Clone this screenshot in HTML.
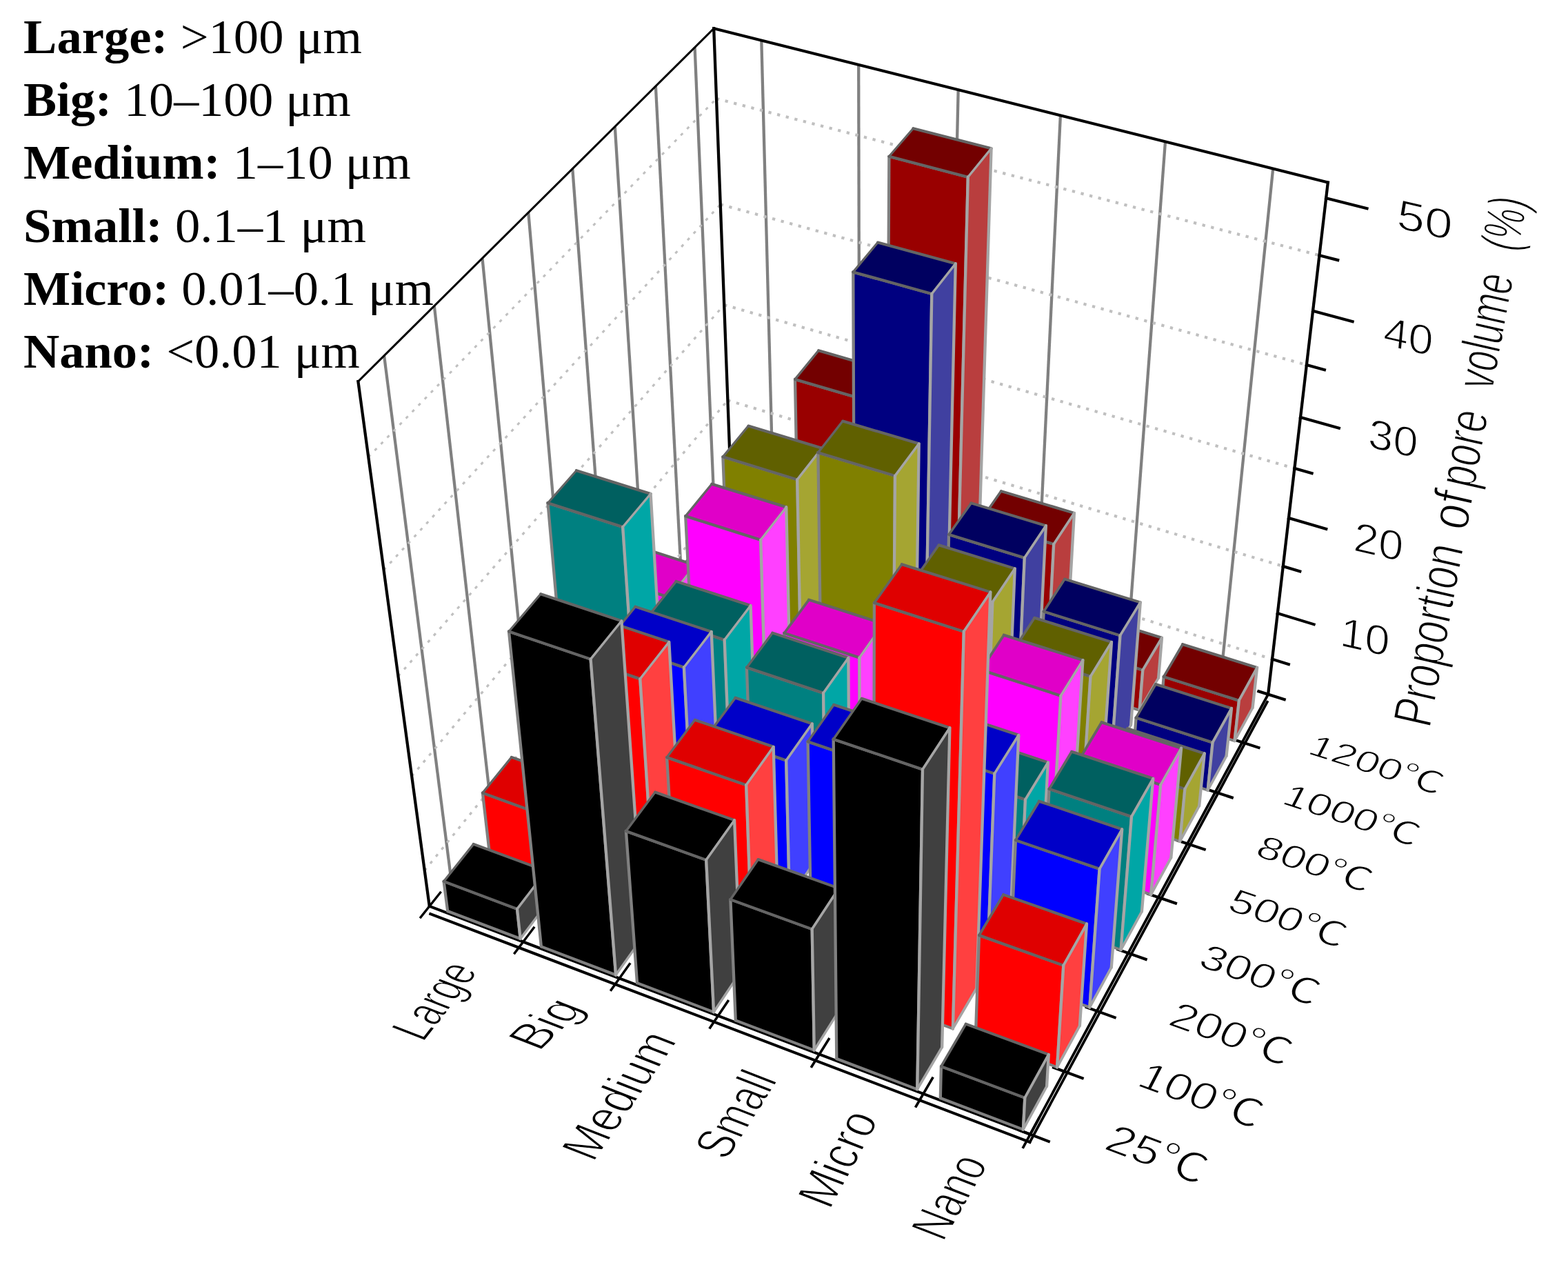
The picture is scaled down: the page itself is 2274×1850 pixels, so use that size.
<!DOCTYPE html>
<html><head><meta charset="utf-8"><title>Pore volume proportion</title>
<style>
html,body{margin:0;padding:0;background:#fff;}
body{width:2274px;height:1850px;overflow:hidden;}
svg{display:block;}
text{font-family:"Liberation Sans","Noto Sans CJK SC",sans-serif;fill:#000;}
.lg{font-family:"Liberation Serif",serif;}
.lg .b{font-weight:bold;}
</style></head>
<body>
<svg xmlns="http://www.w3.org/2000/svg" width="2274" height="1850" viewBox="0 0 2274 1850">
<rect width="2274" height="1850" fill="#fff"/>
<g id="grid" stroke-linecap="butt">
<line x1="654.2" y1="1274.4" x2="557.1" y2="515.8" stroke="#808080" stroke-width="4.27" />
<line x1="715.3" y1="1197.7" x2="629.8" y2="443.6" stroke="#808080" stroke-width="4.27" />
<line x1="774.1" y1="1123.9" x2="699.5" y2="374.4" stroke="#808080" stroke-width="4.28" />
<line x1="830.7" y1="1052.7" x2="766.3" y2="308.2" stroke="#808080" stroke-width="4.28" />
<line x1="885.4" y1="984.1" x2="830.3" y2="244.6" stroke="#808080" stroke-width="4.29" />
<line x1="938.1" y1="917.9" x2="891.8" y2="183.6" stroke="#808080" stroke-width="4.29" />
<line x1="989.0" y1="853.9" x2="950.9" y2="125.0" stroke="#808080" stroke-width="4.29" />
<line x1="1038.2" y1="792.1" x2="1007.6" y2="68.6" stroke="#808080" stroke-width="4.3" />
<line x1="1123.0" y1="781.2" x2="1104.3" y2="58.6" stroke="#808080" stroke-width="4.3" />
<line x1="1246.7" y1="820.1" x2="1245.2" y2="93.9" stroke="#808080" stroke-width="4.3" />
<line x1="1373.2" y1="860.0" x2="1389.7" y2="130.1" stroke="#808080" stroke-width="4.3" />
<line x1="1502.6" y1="900.7" x2="1537.9" y2="167.3" stroke="#808080" stroke-width="4.3" />
<line x1="1634.9" y1="942.4" x2="1690.0" y2="205.4" stroke="#808080" stroke-width="4.29" />
<line x1="1770.2" y1="985.0" x2="1846.2" y2="244.6" stroke="#808080" stroke-width="4.28" />
<line x1="615.8" y1="1262.1" x2="1060.3" y2="712.0" stroke="#c0c0c0" stroke-width="3.34" stroke-dasharray="4.3 8.7"/>
<line x1="1060.3" y1="712.0" x2="1845.1" y2="955.6" stroke="#c0c0c0" stroke-width="4.11" stroke-dasharray="4.3 8.7"/>
<line x1="597.2" y1="1125.3" x2="1055.4" y2="580.4" stroke="#c0c0c0" stroke-width="3.29" stroke-dasharray="4.3 8.7"/>
<line x1="1055.4" y1="580.4" x2="1860.8" y2="821.0" stroke="#c0c0c0" stroke-width="4.12" stroke-dasharray="4.3 8.7"/>
<line x1="577.5" y1="980.2" x2="1050.2" y2="442.0" stroke="#c0c0c0" stroke-width="3.23" stroke-dasharray="4.3 8.7"/>
<line x1="1050.2" y1="442.0" x2="1877.4" y2="679.0" stroke="#c0c0c0" stroke-width="4.13" stroke-dasharray="4.3 8.7"/>
<line x1="556.6" y1="826.3" x2="1044.8" y2="296.4" stroke="#c0c0c0" stroke-width="3.16" stroke-dasharray="4.3 8.7"/>
<line x1="1044.8" y1="296.4" x2="1894.9" y2="529.0" stroke="#c0c0c0" stroke-width="4.15" stroke-dasharray="4.3 8.7"/>
<line x1="534.3" y1="662.5" x2="1039.0" y2="143.0" stroke="#c0c0c0" stroke-width="3.08" stroke-dasharray="4.3 8.7"/>
<line x1="1039.0" y1="143.0" x2="1913.5" y2="370.2" stroke="#c0c0c0" stroke-width="4.16" stroke-dasharray="4.3 8.7"/>
</g>
<g id="box" stroke-linecap="square">
<line x1="622.8" y1="1313.9" x2="519.4" y2="553.1" stroke="#000" stroke-width="4.26" />
<line x1="519.4" y1="553.1" x2="1035.2" y2="41.3" stroke="#000" stroke-width="3.05" />
<line x1="1035.2" y1="41.3" x2="1925.8" y2="264.5" stroke="#000" stroke-width="4.17" />
<line x1="1035.2" y1="41.3" x2="1062.2" y2="762.0" stroke="#000" stroke-width="4.3" />
<line x1="1925.8" y1="264.5" x2="1839.1" y2="1006.7" stroke="#000" stroke-width="4.27" />
<line x1="622.8" y1="1313.9" x2="1494.1" y2="1644.6" stroke="#000" stroke-width="4.02" />
<line x1="1494.1" y1="1644.6" x2="1839.1" y2="1006.7" stroke="#000" stroke-width="3.78" />
<line x1="624.3" y1="1325.1" x2="1493.5" y2="1655.9" stroke="#000" stroke-width="4.02" />
<line x1="1493.5" y1="1655.9" x2="1837.8" y2="1017.8" stroke="#000" stroke-width="3.78" />
<line x1="610.1" y1="1329.9" x2="638.6" y2="1294.1" stroke="#000" stroke-width="3.36" />
<line x1="746.4" y1="1381.9" x2="774.1" y2="1345.2" stroke="#000" stroke-width="3.43" />
<line x1="886.3" y1="1435.3" x2="913.1" y2="1397.6" stroke="#000" stroke-width="3.5" />
<line x1="1029.8" y1="1490.0" x2="1055.7" y2="1451.4" stroke="#000" stroke-width="3.57" />
<line x1="1177.2" y1="1546.3" x2="1202.0" y2="1506.6" stroke="#000" stroke-width="3.65" />
<line x1="1328.5" y1="1604.0" x2="1352.3" y2="1563.2" stroke="#000" stroke-width="3.71" />
<line x1="1484.0" y1="1663.3" x2="1506.6" y2="1621.5" stroke="#000" stroke-width="3.78" />
<line x1="1478.4" y1="1638.7" x2="1520.9" y2="1654.8" stroke="#000" stroke-width="4.02" />
<line x1="1528.0" y1="1547.7" x2="1569.7" y2="1563.2" stroke="#000" stroke-width="4.03" />
<line x1="1575.6" y1="1460.4" x2="1616.7" y2="1475.2" stroke="#000" stroke-width="4.05" />
<line x1="1621.3" y1="1376.6" x2="1661.7" y2="1390.8" stroke="#000" stroke-width="4.06" />
<line x1="1665.2" y1="1295.9" x2="1705.0" y2="1309.6" stroke="#000" stroke-width="4.07" />
<line x1="1707.5" y1="1218.4" x2="1746.7" y2="1231.5" stroke="#000" stroke-width="4.08" />
<line x1="1748.2" y1="1143.7" x2="1786.8" y2="1156.4" stroke="#000" stroke-width="4.08" />
<line x1="1787.5" y1="1071.7" x2="1825.5" y2="1084.0" stroke="#000" stroke-width="4.09" />
<line x1="1825.3" y1="1002.3" x2="1862.7" y2="1014.1" stroke="#000" stroke-width="4.1" />
<line x1="1845.1" y1="955.6" x2="1868.9" y2="963.1" stroke="#000" stroke-width="4.1" />
<line x1="1852.8" y1="889.2" x2="1905.6" y2="905.3" stroke="#000" stroke-width="4.11" />
<line x1="1860.8" y1="821.0" x2="1885.3" y2="828.4" stroke="#000" stroke-width="4.12" />
<line x1="1869.0" y1="751.0" x2="1923.3" y2="766.9" stroke="#000" stroke-width="4.13" />
<line x1="1877.4" y1="679.0" x2="1902.6" y2="686.2" stroke="#000" stroke-width="4.13" />
<line x1="1886.0" y1="605.0" x2="1941.9" y2="620.7" stroke="#000" stroke-width="4.14" />
<line x1="1894.9" y1="529.0" x2="1920.9" y2="536.1" stroke="#000" stroke-width="4.15" />
<line x1="1904.1" y1="450.7" x2="1961.6" y2="466.1" stroke="#000" stroke-width="4.15" />
<line x1="1913.5" y1="370.2" x2="1940.2" y2="377.1" stroke="#000" stroke-width="4.16" />
<line x1="1923.1" y1="287.3" x2="1982.5" y2="302.3" stroke="#000" stroke-width="4.17" />
</g>
<g id="bars" stroke-linecap="round">
<g class="bar">
<path d="M1035.5 831.0 L1131.7 862.0 L1130.3 803.2 L1032.9 772.4Z" fill="#990000"/>
<line x1="1035.5" y1="831.0" x2="1131.7" y2="862.0" stroke="#808080" stroke-width="4.09"/>
<line x1="1131.7" y1="862.0" x2="1130.3" y2="803.2" stroke="#808080" stroke-width="4.3"/>
<line x1="1130.3" y1="803.2" x2="1032.9" y2="772.4" stroke="#808080" stroke-width="4.1"/>
<line x1="1032.9" y1="772.4" x2="1035.5" y2="831.0" stroke="#808080" stroke-width="4.3"/>
<path d="M1032.9 772.4 L1130.3 803.2 L1163.0 760.6 L1066.5 730.6Z" fill="#730000"/>
<line x1="1032.9" y1="772.4" x2="1130.3" y2="803.2" stroke="#646464" stroke-width="4.1"/>
<line x1="1130.3" y1="803.2" x2="1163.0" y2="760.6" stroke="#646464" stroke-width="3.41"/>
<line x1="1163.0" y1="760.6" x2="1066.5" y2="730.6" stroke="#646464" stroke-width="4.11"/>
<line x1="1066.5" y1="730.6" x2="1032.9" y2="772.4" stroke="#646464" stroke-width="3.35"/>
<path d="M1131.7 862.0 L1164.0 819.2 L1163.0 760.6 L1130.3 803.2Z" fill="#b93e3e"/>
<line x1="1131.7" y1="862.0" x2="1164.0" y2="819.2" stroke="#a5a5a5" stroke-width="3.43"/>
<line x1="1164.0" y1="819.2" x2="1163.0" y2="760.6" stroke="#a5a5a5" stroke-width="4.3"/>
<line x1="1163.0" y1="760.6" x2="1130.3" y2="803.2" stroke="#a5a5a5" stroke-width="3.41"/>
<line x1="1130.3" y1="803.2" x2="1131.7" y2="862.0" stroke="#a5a5a5" stroke-width="4.3"/>
</g>
<g class="bar">
<path d="M1159.1 870.8 L1257.5 902.5 L1257.5 580.6 L1153.0 549.9Z" fill="#990000"/>
<line x1="1159.1" y1="870.8" x2="1257.5" y2="902.5" stroke="#808080" stroke-width="4.09"/>
<line x1="1257.5" y1="902.5" x2="1257.5" y2="580.6" stroke="#808080" stroke-width="4.3"/>
<line x1="1257.5" y1="580.6" x2="1153.0" y2="549.9" stroke="#808080" stroke-width="4.13"/>
<line x1="1153.0" y1="549.9" x2="1159.1" y2="870.8" stroke="#808080" stroke-width="4.3"/>
<path d="M1153.0 549.9 L1257.5 580.6 L1290.7 538.2 L1187.1 508.2Z" fill="#730000"/>
<line x1="1153.0" y1="549.9" x2="1257.5" y2="580.6" stroke="#646464" stroke-width="4.13"/>
<line x1="1257.5" y1="580.6" x2="1290.7" y2="538.2" stroke="#646464" stroke-width="3.39"/>
<line x1="1290.7" y1="538.2" x2="1187.1" y2="508.2" stroke="#646464" stroke-width="4.13"/>
<line x1="1187.1" y1="508.2" x2="1153.0" y2="549.9" stroke="#646464" stroke-width="3.33"/>
<path d="M1257.5 902.5 L1288.7 858.7 L1290.7 538.2 L1257.5 580.6Z" fill="#b93e3e"/>
<line x1="1257.5" y1="902.5" x2="1288.7" y2="858.7" stroke="#a5a5a5" stroke-width="3.5"/>
<line x1="1288.7" y1="858.7" x2="1290.7" y2="538.2" stroke="#a5a5a5" stroke-width="4.3"/>
<line x1="1290.7" y1="538.2" x2="1257.5" y2="580.6" stroke="#a5a5a5" stroke-width="3.39"/>
<line x1="1257.5" y1="580.6" x2="1257.5" y2="902.5" stroke="#a5a5a5" stroke-width="4.3"/>
</g>
<g class="bar">
<path d="M1285.6 911.5 L1386.2 943.9 L1403.8 256.7 L1289.4 226.8Z" fill="#990000"/>
<line x1="1285.6" y1="911.5" x2="1386.2" y2="943.9" stroke="#808080" stroke-width="4.09"/>
<line x1="1386.2" y1="943.9" x2="1403.8" y2="256.7" stroke="#808080" stroke-width="4.3"/>
<line x1="1403.8" y1="256.7" x2="1289.4" y2="226.8" stroke="#808080" stroke-width="4.16"/>
<line x1="1289.4" y1="226.8" x2="1285.6" y2="911.5" stroke="#808080" stroke-width="4.3"/>
<path d="M1289.4 226.8 L1403.8 256.7 L1437.6 215.3 L1324.4 186.2Z" fill="#730000"/>
<line x1="1289.4" y1="226.8" x2="1403.8" y2="256.7" stroke="#646464" stroke-width="4.16"/>
<line x1="1403.8" y1="256.7" x2="1437.6" y2="215.3" stroke="#646464" stroke-width="3.33"/>
<line x1="1437.6" y1="215.3" x2="1324.4" y2="186.2" stroke="#646464" stroke-width="4.16"/>
<line x1="1324.4" y1="186.2" x2="1289.4" y2="226.8" stroke="#646464" stroke-width="3.26"/>
<path d="M1386.2 943.9 L1416.2 899.2 L1437.6 215.3 L1403.8 256.7Z" fill="#b93e3e"/>
<line x1="1386.2" y1="943.9" x2="1416.2" y2="899.2" stroke="#a5a5a5" stroke-width="3.57"/>
<line x1="1416.2" y1="899.2" x2="1437.6" y2="215.3" stroke="#a5a5a5" stroke-width="4.3"/>
<line x1="1437.6" y1="215.3" x2="1403.8" y2="256.7" stroke="#a5a5a5" stroke-width="3.33"/>
<line x1="1403.8" y1="256.7" x2="1386.2" y2="943.9" stroke="#a5a5a5" stroke-width="4.3"/>
</g>
<g class="bar">
<path d="M1414.9 953.1 L1517.9 986.3 L1528.2 788.9 L1421.1 756.3Z" fill="#990000"/>
<line x1="1414.9" y1="953.1" x2="1517.9" y2="986.3" stroke="#808080" stroke-width="4.09"/>
<line x1="1517.9" y1="986.3" x2="1528.2" y2="788.9" stroke="#808080" stroke-width="4.29"/>
<line x1="1528.2" y1="788.9" x2="1421.1" y2="756.3" stroke="#808080" stroke-width="4.11"/>
<line x1="1421.1" y1="756.3" x2="1414.9" y2="953.1" stroke="#808080" stroke-width="4.3"/>
<path d="M1421.1 756.3 L1528.2 788.9 L1557.9 743.9 L1451.9 712.1Z" fill="#730000"/>
<line x1="1421.1" y1="756.3" x2="1528.2" y2="788.9" stroke="#646464" stroke-width="4.11"/>
<line x1="1528.2" y1="788.9" x2="1557.9" y2="743.9" stroke="#646464" stroke-width="3.59"/>
<line x1="1557.9" y1="743.9" x2="1451.9" y2="712.1" stroke="#646464" stroke-width="4.12"/>
<line x1="1451.9" y1="712.1" x2="1421.1" y2="756.3" stroke="#646464" stroke-width="3.53"/>
<path d="M1517.9 986.3 L1546.7 940.5 L1557.9 743.9 L1528.2 788.9Z" fill="#b93e3e"/>
<line x1="1517.9" y1="986.3" x2="1546.7" y2="940.5" stroke="#a5a5a5" stroke-width="3.64"/>
<line x1="1546.7" y1="940.5" x2="1557.9" y2="743.9" stroke="#a5a5a5" stroke-width="4.29"/>
<line x1="1557.9" y1="743.9" x2="1528.2" y2="788.9" stroke="#a5a5a5" stroke-width="3.59"/>
<line x1="1528.2" y1="788.9" x2="1517.9" y2="986.3" stroke="#a5a5a5" stroke-width="4.29"/>
</g>
<g class="bar">
<path d="M1547.3 995.7 L1652.6 1029.7 L1657.3 971.5 L1550.6 937.7Z" fill="#990000"/>
<line x1="1547.3" y1="995.7" x2="1652.6" y2="1029.7" stroke="#808080" stroke-width="4.09"/>
<line x1="1652.6" y1="1029.7" x2="1657.3" y2="971.5" stroke="#808080" stroke-width="4.29"/>
<line x1="1657.3" y1="971.5" x2="1550.6" y2="937.7" stroke="#808080" stroke-width="4.1"/>
<line x1="1550.6" y1="937.7" x2="1547.3" y2="995.7" stroke="#808080" stroke-width="4.29"/>
<path d="M1550.6 937.7 L1657.3 971.5 L1685.0 924.8 L1579.4 891.9Z" fill="#730000"/>
<line x1="1550.6" y1="937.7" x2="1657.3" y2="971.5" stroke="#646464" stroke-width="4.1"/>
<line x1="1657.3" y1="971.5" x2="1685.0" y2="924.8" stroke="#646464" stroke-width="3.7"/>
<line x1="1685.0" y1="924.8" x2="1579.4" y2="891.9" stroke="#646464" stroke-width="4.11"/>
<line x1="1579.4" y1="891.9" x2="1550.6" y2="937.7" stroke="#646464" stroke-width="3.64"/>
<path d="M1652.6 1029.7 L1680.1 982.9 L1685.0 924.8 L1657.3 971.5Z" fill="#b93e3e"/>
<line x1="1652.6" y1="1029.7" x2="1680.1" y2="982.9" stroke="#a5a5a5" stroke-width="3.71"/>
<line x1="1680.1" y1="982.9" x2="1685.0" y2="924.8" stroke="#a5a5a5" stroke-width="4.28"/>
<line x1="1685.0" y1="924.8" x2="1657.3" y2="971.5" stroke="#a5a5a5" stroke-width="3.7"/>
<line x1="1657.3" y1="971.5" x2="1652.6" y2="1029.7" stroke="#a5a5a5" stroke-width="4.29"/>
</g>
<g class="bar">
<path d="M1682.7 1039.3 L1790.5 1074.1 L1796.9 1015.7 L1687.7 981.1Z" fill="#990000"/>
<line x1="1682.7" y1="1039.3" x2="1790.5" y2="1074.1" stroke="#808080" stroke-width="4.09"/>
<line x1="1790.5" y1="1074.1" x2="1796.9" y2="1015.7" stroke="#808080" stroke-width="4.27"/>
<line x1="1796.9" y1="1015.7" x2="1687.7" y2="981.1" stroke="#808080" stroke-width="4.1"/>
<line x1="1687.7" y1="981.1" x2="1682.7" y2="1039.3" stroke="#808080" stroke-width="4.28"/>
<path d="M1687.7 981.1 L1796.9 1015.7 L1823.1 968.0 L1715.1 934.2Z" fill="#730000"/>
<line x1="1687.7" y1="981.1" x2="1796.9" y2="1015.7" stroke="#646464" stroke-width="4.1"/>
<line x1="1796.9" y1="1015.7" x2="1823.1" y2="968.0" stroke="#646464" stroke-width="3.77"/>
<line x1="1823.1" y1="968.0" x2="1715.1" y2="934.2" stroke="#646464" stroke-width="4.1"/>
<line x1="1715.1" y1="934.2" x2="1687.7" y2="981.1" stroke="#646464" stroke-width="3.71"/>
<path d="M1790.5 1074.1 L1816.6 1026.2 L1823.1 968.0 L1796.9 1015.7Z" fill="#b93e3e"/>
<line x1="1790.5" y1="1074.1" x2="1816.6" y2="1026.2" stroke="#a5a5a5" stroke-width="3.78"/>
<line x1="1816.6" y1="1026.2" x2="1823.1" y2="968.0" stroke="#a5a5a5" stroke-width="4.27"/>
<line x1="1823.1" y1="968.0" x2="1796.9" y2="1015.7" stroke="#a5a5a5" stroke-width="3.77"/>
<line x1="1796.9" y1="1015.7" x2="1790.5" y2="1074.1" stroke="#a5a5a5" stroke-width="4.27"/>
</g>
<g class="bar">
<path d="M986.0 893.7 L1083.5 925.8 L1081.3 861.6 L982.6 829.7Z" fill="#000080"/>
<line x1="986.0" y1="893.7" x2="1083.5" y2="925.8" stroke="#808080" stroke-width="4.08"/>
<line x1="1083.5" y1="925.8" x2="1081.3" y2="861.6" stroke="#808080" stroke-width="4.3"/>
<line x1="1081.3" y1="861.6" x2="982.6" y2="829.7" stroke="#808080" stroke-width="4.09"/>
<line x1="982.6" y1="829.7" x2="986.0" y2="893.7" stroke="#808080" stroke-width="4.29"/>
<path d="M982.6 829.7 L1081.3 861.6 L1115.2 817.5 L1017.4 786.4Z" fill="#000060"/>
<line x1="982.6" y1="829.7" x2="1081.3" y2="861.6" stroke="#646464" stroke-width="4.09"/>
<line x1="1081.3" y1="861.6" x2="1115.2" y2="817.5" stroke="#646464" stroke-width="3.41"/>
<line x1="1115.2" y1="817.5" x2="1017.4" y2="786.4" stroke="#646464" stroke-width="4.1"/>
<line x1="1017.4" y1="786.4" x2="982.6" y2="829.7" stroke="#646464" stroke-width="3.35"/>
<path d="M1083.5 925.8 L1116.9 881.5 L1115.2 817.5 L1081.3 861.6Z" fill="#4040a0"/>
<line x1="1083.5" y1="925.8" x2="1116.9" y2="881.5" stroke="#a5a5a5" stroke-width="3.43"/>
<line x1="1116.9" y1="881.5" x2="1115.2" y2="817.5" stroke="#a5a5a5" stroke-width="4.3"/>
<line x1="1115.2" y1="817.5" x2="1081.3" y2="861.6" stroke="#a5a5a5" stroke-width="3.41"/>
<line x1="1081.3" y1="861.6" x2="1083.5" y2="925.8" stroke="#a5a5a5" stroke-width="4.3"/>
</g>
<g class="bar">
<path d="M1111.3 934.9 L1211.0 967.7 L1208.9 741.7 L1104.7 709.5Z" fill="#000080"/>
<line x1="1111.3" y1="934.9" x2="1211.0" y2="967.7" stroke="#808080" stroke-width="4.08"/>
<line x1="1211.0" y1="967.7" x2="1208.9" y2="741.7" stroke="#808080" stroke-width="4.3"/>
<line x1="1208.9" y1="741.7" x2="1104.7" y2="709.5" stroke="#808080" stroke-width="4.11"/>
<line x1="1104.7" y1="709.5" x2="1111.3" y2="934.9" stroke="#808080" stroke-width="4.3"/>
<path d="M1104.7 709.5 L1208.9 741.7 L1242.6 697.2 L1139.5 665.9Z" fill="#000060"/>
<line x1="1104.7" y1="709.5" x2="1208.9" y2="741.7" stroke="#646464" stroke-width="4.11"/>
<line x1="1208.9" y1="741.7" x2="1242.6" y2="697.2" stroke="#646464" stroke-width="3.43"/>
<line x1="1242.6" y1="697.2" x2="1139.5" y2="665.9" stroke="#646464" stroke-width="4.11"/>
<line x1="1139.5" y1="665.9" x2="1104.7" y2="709.5" stroke="#646464" stroke-width="3.36"/>
<path d="M1211.0 967.7 L1243.3 922.5 L1242.6 697.2 L1208.9 741.7Z" fill="#4040a0"/>
<line x1="1211.0" y1="967.7" x2="1243.3" y2="922.5" stroke="#a5a5a5" stroke-width="3.5"/>
<line x1="1243.3" y1="922.5" x2="1242.6" y2="697.2" stroke="#a5a5a5" stroke-width="4.3"/>
<line x1="1242.6" y1="697.2" x2="1208.9" y2="741.7" stroke="#a5a5a5" stroke-width="3.43"/>
<line x1="1208.9" y1="741.7" x2="1211.0" y2="967.7" stroke="#a5a5a5" stroke-width="4.3"/>
</g>
<g class="bar">
<path d="M1239.4 977.1 L1341.4 1010.7 L1351.3 426.0 L1237.3 394.4Z" fill="#000080"/>
<line x1="1239.4" y1="977.1" x2="1341.4" y2="1010.7" stroke="#808080" stroke-width="4.08"/>
<line x1="1341.4" y1="1010.7" x2="1351.3" y2="426.0" stroke="#808080" stroke-width="4.3"/>
<line x1="1351.3" y1="426.0" x2="1237.3" y2="394.4" stroke="#808080" stroke-width="4.14"/>
<line x1="1237.3" y1="394.4" x2="1239.4" y2="977.1" stroke="#808080" stroke-width="4.3"/>
<path d="M1237.3 394.4 L1351.3 426.0 L1385.8 382.2 L1273.0 351.5Z" fill="#000060"/>
<line x1="1237.3" y1="394.4" x2="1351.3" y2="426.0" stroke="#646464" stroke-width="4.14"/>
<line x1="1351.3" y1="426.0" x2="1385.8" y2="382.2" stroke="#646464" stroke-width="3.38"/>
<line x1="1385.8" y1="382.2" x2="1273.0" y2="351.5" stroke="#646464" stroke-width="4.15"/>
<line x1="1273.0" y1="351.5" x2="1237.3" y2="394.4" stroke="#646464" stroke-width="3.31"/>
<path d="M1341.4 1010.7 L1372.5 964.4 L1385.8 382.2 L1351.3 426.0Z" fill="#4040a0"/>
<line x1="1341.4" y1="1010.7" x2="1372.5" y2="964.4" stroke="#a5a5a5" stroke-width="3.57"/>
<line x1="1372.5" y1="964.4" x2="1385.8" y2="382.2" stroke="#a5a5a5" stroke-width="4.3"/>
<line x1="1385.8" y1="382.2" x2="1351.3" y2="426.0" stroke="#a5a5a5" stroke-width="3.38"/>
<line x1="1351.3" y1="426.0" x2="1341.4" y2="1010.7" stroke="#a5a5a5" stroke-width="4.3"/>
</g>
<g class="bar">
<path d="M1370.5 1020.3 L1474.9 1054.6 L1485.8 808.8 L1376.1 775.0Z" fill="#000080"/>
<line x1="1370.5" y1="1020.3" x2="1474.9" y2="1054.6" stroke="#808080" stroke-width="4.09"/>
<line x1="1474.9" y1="1054.6" x2="1485.8" y2="808.8" stroke="#808080" stroke-width="4.3"/>
<line x1="1485.8" y1="808.8" x2="1376.1" y2="775.0" stroke="#808080" stroke-width="4.11"/>
<line x1="1376.1" y1="775.0" x2="1370.5" y2="1020.3" stroke="#808080" stroke-width="4.3"/>
<path d="M1376.1 775.0 L1485.8 808.8 L1516.9 762.2 L1408.4 729.4Z" fill="#000060"/>
<line x1="1376.1" y1="775.0" x2="1485.8" y2="808.8" stroke="#646464" stroke-width="4.11"/>
<line x1="1485.8" y1="808.8" x2="1516.9" y2="762.2" stroke="#646464" stroke-width="3.58"/>
<line x1="1516.9" y1="762.2" x2="1408.4" y2="729.4" stroke="#646464" stroke-width="4.12"/>
<line x1="1408.4" y1="729.4" x2="1376.1" y2="775.0" stroke="#646464" stroke-width="3.51"/>
<path d="M1474.9 1054.6 L1504.7 1007.2 L1516.9 762.2 L1485.8 808.8Z" fill="#4040a0"/>
<line x1="1474.9" y1="1054.6" x2="1504.7" y2="1007.2" stroke="#a5a5a5" stroke-width="3.64"/>
<line x1="1504.7" y1="1007.2" x2="1516.9" y2="762.2" stroke="#a5a5a5" stroke-width="4.29"/>
<line x1="1516.9" y1="762.2" x2="1485.8" y2="808.8" stroke="#a5a5a5" stroke-width="3.58"/>
<line x1="1485.8" y1="808.8" x2="1474.9" y2="1054.6" stroke="#a5a5a5" stroke-width="4.3"/>
</g>
<g class="bar">
<path d="M1504.7 1064.4 L1611.6 1099.6 L1624.5 921.4 L1513.7 886.6Z" fill="#000080"/>
<line x1="1504.7" y1="1064.4" x2="1611.6" y2="1099.6" stroke="#808080" stroke-width="4.08"/>
<line x1="1611.6" y1="1099.6" x2="1624.5" y2="921.4" stroke="#808080" stroke-width="4.29"/>
<line x1="1624.5" y1="921.4" x2="1513.7" y2="886.6" stroke="#808080" stroke-width="4.1"/>
<line x1="1513.7" y1="886.6" x2="1504.7" y2="1064.4" stroke="#808080" stroke-width="4.29"/>
<path d="M1513.7 886.6 L1624.5 921.4 L1653.8 873.4 L1544.1 839.6Z" fill="#000060"/>
<line x1="1513.7" y1="886.6" x2="1624.5" y2="921.4" stroke="#646464" stroke-width="4.1"/>
<line x1="1624.5" y1="921.4" x2="1653.8" y2="873.4" stroke="#646464" stroke-width="3.67"/>
<line x1="1653.8" y1="873.4" x2="1544.1" y2="839.6" stroke="#646464" stroke-width="4.11"/>
<line x1="1544.1" y1="839.6" x2="1513.7" y2="886.6" stroke="#646464" stroke-width="3.61"/>
<path d="M1611.6 1099.6 L1640.1 1051.1 L1653.8 873.4 L1624.5 921.4Z" fill="#4040a0"/>
<line x1="1611.6" y1="1099.6" x2="1640.1" y2="1051.1" stroke="#a5a5a5" stroke-width="3.71"/>
<line x1="1640.1" y1="1051.1" x2="1653.8" y2="873.4" stroke="#a5a5a5" stroke-width="4.29"/>
<line x1="1653.8" y1="873.4" x2="1624.5" y2="921.4" stroke="#a5a5a5" stroke-width="3.67"/>
<line x1="1624.5" y1="921.4" x2="1611.6" y2="1099.6" stroke="#a5a5a5" stroke-width="4.29"/>
</g>
<g class="bar">
<path d="M1642.1 1109.6 L1751.6 1145.6 L1758.6 1076.5 L1647.6 1040.6Z" fill="#000080"/>
<line x1="1642.1" y1="1109.6" x2="1751.6" y2="1145.6" stroke="#808080" stroke-width="4.08"/>
<line x1="1751.6" y1="1145.6" x2="1758.6" y2="1076.5" stroke="#808080" stroke-width="4.28"/>
<line x1="1758.6" y1="1076.5" x2="1647.6" y2="1040.6" stroke="#808080" stroke-width="4.09"/>
<line x1="1647.6" y1="1040.6" x2="1642.1" y2="1109.6" stroke="#808080" stroke-width="4.29"/>
<path d="M1647.6 1040.6 L1758.6 1076.5 L1786.0 1027.0 L1676.0 992.0Z" fill="#000060"/>
<line x1="1647.6" y1="1040.6" x2="1758.6" y2="1076.5" stroke="#646464" stroke-width="4.09"/>
<line x1="1758.6" y1="1076.5" x2="1786.0" y2="1027.0" stroke="#646464" stroke-width="3.76"/>
<line x1="1786.0" y1="1027.0" x2="1676.0" y2="992.0" stroke="#646464" stroke-width="4.1"/>
<line x1="1676.0" y1="992.0" x2="1647.6" y2="1040.6" stroke="#646464" stroke-width="3.71"/>
<path d="M1751.6 1145.6 L1778.6 1096.0 L1786.0 1027.0 L1758.6 1076.5Z" fill="#4040a0"/>
<line x1="1751.6" y1="1145.6" x2="1778.6" y2="1096.0" stroke="#a5a5a5" stroke-width="3.78"/>
<line x1="1778.6" y1="1096.0" x2="1786.0" y2="1027.0" stroke="#a5a5a5" stroke-width="4.28"/>
<line x1="1786.0" y1="1027.0" x2="1758.6" y2="1076.5" stroke="#a5a5a5" stroke-width="3.76"/>
<line x1="1758.6" y1="1076.5" x2="1751.6" y2="1145.6" stroke="#a5a5a5" stroke-width="4.28"/>
</g>
<g class="bar">
<path d="M934.8 958.7 L1033.5 991.9 L1028.9 887.8 L928.1 854.9Z" fill="#808000"/>
<line x1="934.8" y1="958.7" x2="1033.5" y2="991.9" stroke="#808080" stroke-width="4.08"/>
<line x1="1033.5" y1="991.9" x2="1028.9" y2="887.8" stroke="#808080" stroke-width="4.3"/>
<line x1="1028.9" y1="887.8" x2="928.1" y2="854.9" stroke="#808080" stroke-width="4.09"/>
<line x1="928.1" y1="854.9" x2="934.8" y2="958.7" stroke="#808080" stroke-width="4.29"/>
<path d="M928.1 854.9 L1028.9 887.8 L1064.3 842.3 L964.5 810.2Z" fill="#606000"/>
<line x1="928.1" y1="854.9" x2="1028.9" y2="887.8" stroke="#646464" stroke-width="4.09"/>
<line x1="1028.9" y1="887.8" x2="1064.3" y2="842.3" stroke="#646464" stroke-width="3.39"/>
<line x1="1064.3" y1="842.3" x2="964.5" y2="810.2" stroke="#646464" stroke-width="4.09"/>
<line x1="964.5" y1="810.2" x2="928.1" y2="854.9" stroke="#646464" stroke-width="3.33"/>
<path d="M1033.5 991.9 L1068.2 946.0 L1064.3 842.3 L1028.9 887.8Z" fill="#a5a532"/>
<line x1="1033.5" y1="991.9" x2="1068.2" y2="946.0" stroke="#a5a5a5" stroke-width="3.43"/>
<line x1="1068.2" y1="946.0" x2="1064.3" y2="842.3" stroke="#a5a5a5" stroke-width="4.3"/>
<line x1="1064.3" y1="842.3" x2="1028.9" y2="887.8" stroke="#a5a5a5" stroke-width="3.39"/>
<line x1="1028.9" y1="887.8" x2="1033.5" y2="991.9" stroke="#a5a5a5" stroke-width="4.3"/>
</g>
<g class="bar">
<path d="M1061.7 1001.4 L1162.8 1035.4 L1156.2 695.4 L1048.4 662.3Z" fill="#808000"/>
<line x1="1061.7" y1="1001.4" x2="1162.8" y2="1035.4" stroke="#808080" stroke-width="4.08"/>
<line x1="1162.8" y1="1035.4" x2="1156.2" y2="695.4" stroke="#808080" stroke-width="4.3"/>
<line x1="1156.2" y1="695.4" x2="1048.4" y2="662.3" stroke="#808080" stroke-width="4.11"/>
<line x1="1048.4" y1="662.3" x2="1061.7" y2="1001.4" stroke="#808080" stroke-width="4.3"/>
<path d="M1048.4 662.3 L1156.2 695.4 L1192.0 649.7 L1085.3 617.5Z" fill="#606000"/>
<line x1="1048.4" y1="662.3" x2="1156.2" y2="695.4" stroke="#646464" stroke-width="4.11"/>
<line x1="1156.2" y1="695.4" x2="1192.0" y2="649.7" stroke="#646464" stroke-width="3.39"/>
<line x1="1192.0" y1="649.7" x2="1085.3" y2="617.5" stroke="#646464" stroke-width="4.12"/>
<line x1="1085.3" y1="617.5" x2="1048.4" y2="662.3" stroke="#646464" stroke-width="3.32"/>
<path d="M1162.8 1035.4 L1196.2 988.5 L1192.0 649.7 L1156.2 695.4Z" fill="#a5a532"/>
<line x1="1162.8" y1="1035.4" x2="1196.2" y2="988.5" stroke="#a5a5a5" stroke-width="3.5"/>
<line x1="1196.2" y1="988.5" x2="1192.0" y2="649.7" stroke="#a5a5a5" stroke-width="4.3"/>
<line x1="1192.0" y1="649.7" x2="1156.2" y2="695.4" stroke="#a5a5a5" stroke-width="3.39"/>
<line x1="1156.2" y1="695.4" x2="1162.8" y2="1035.4" stroke="#a5a5a5" stroke-width="4.3"/>
</g>
<g class="bar">
<path d="M1191.6 1045.1 L1295.0 1079.9 L1298.0 689.9 L1186.4 656.2Z" fill="#808000"/>
<line x1="1191.6" y1="1045.1" x2="1295.0" y2="1079.9" stroke="#808080" stroke-width="4.08"/>
<line x1="1295.0" y1="1079.9" x2="1298.0" y2="689.9" stroke="#808080" stroke-width="4.3"/>
<line x1="1298.0" y1="689.9" x2="1186.4" y2="656.2" stroke="#808080" stroke-width="4.12"/>
<line x1="1186.4" y1="656.2" x2="1191.6" y2="1045.1" stroke="#808080" stroke-width="4.3"/>
<path d="M1186.4 656.2 L1298.0 689.9 L1332.7 643.3 L1222.2 610.5Z" fill="#606000"/>
<line x1="1186.4" y1="656.2" x2="1298.0" y2="689.9" stroke="#646464" stroke-width="4.12"/>
<line x1="1298.0" y1="689.9" x2="1332.7" y2="643.3" stroke="#646464" stroke-width="3.45"/>
<line x1="1332.7" y1="643.3" x2="1222.2" y2="610.5" stroke="#646464" stroke-width="4.12"/>
<line x1="1222.2" y1="610.5" x2="1186.4" y2="656.2" stroke="#646464" stroke-width="3.39"/>
<path d="M1295.0 1079.9 L1327.2 1031.9 L1332.7 643.3 L1298.0 689.9Z" fill="#a5a532"/>
<line x1="1295.0" y1="1079.9" x2="1327.2" y2="1031.9" stroke="#a5a5a5" stroke-width="3.57"/>
<line x1="1327.2" y1="1031.9" x2="1332.7" y2="643.3" stroke="#a5a5a5" stroke-width="4.3"/>
<line x1="1332.7" y1="643.3" x2="1298.0" y2="689.9" stroke="#a5a5a5" stroke-width="3.45"/>
<line x1="1298.0" y1="689.9" x2="1295.0" y2="1079.9" stroke="#a5a5a5" stroke-width="4.3"/>
</g>
<g class="bar">
<path d="M1324.5 1089.8 L1430.4 1125.4 L1439.4 872.8 L1328.0 837.8Z" fill="#808000"/>
<line x1="1324.5" y1="1089.8" x2="1430.4" y2="1125.4" stroke="#808080" stroke-width="4.08"/>
<line x1="1430.4" y1="1125.4" x2="1439.4" y2="872.8" stroke="#808080" stroke-width="4.3"/>
<line x1="1439.4" y1="872.8" x2="1328.0" y2="837.8" stroke="#808080" stroke-width="4.1"/>
<line x1="1328.0" y1="837.8" x2="1324.5" y2="1089.8" stroke="#808080" stroke-width="4.3"/>
<path d="M1328.0 837.8 L1439.4 872.8 L1471.8 824.4 L1361.5 790.3Z" fill="#606000"/>
<line x1="1328.0" y1="837.8" x2="1439.4" y2="872.8" stroke="#646464" stroke-width="4.1"/>
<line x1="1439.4" y1="872.8" x2="1471.8" y2="824.4" stroke="#646464" stroke-width="3.57"/>
<line x1="1471.8" y1="824.4" x2="1361.5" y2="790.3" stroke="#646464" stroke-width="4.11"/>
<line x1="1361.5" y1="790.3" x2="1328.0" y2="837.8" stroke="#646464" stroke-width="3.51"/>
<path d="M1430.4 1125.4 L1461.3 1076.3 L1471.8 824.4 L1439.4 872.8Z" fill="#a5a532"/>
<line x1="1430.4" y1="1125.4" x2="1461.3" y2="1076.3" stroke="#a5a5a5" stroke-width="3.64"/>
<line x1="1461.3" y1="1076.3" x2="1471.8" y2="824.4" stroke="#a5a5a5" stroke-width="4.3"/>
<line x1="1471.8" y1="824.4" x2="1439.4" y2="872.8" stroke="#a5a5a5" stroke-width="3.57"/>
<line x1="1439.4" y1="872.8" x2="1430.4" y2="1125.4" stroke="#a5a5a5" stroke-width="4.3"/>
</g>
<g class="bar">
<path d="M1460.6 1135.6 L1569.1 1172.1 L1581.5 980.7 L1468.6 944.6Z" fill="#808000"/>
<line x1="1460.6" y1="1135.6" x2="1569.1" y2="1172.1" stroke="#808080" stroke-width="4.08"/>
<line x1="1569.1" y1="1172.1" x2="1581.5" y2="980.7" stroke="#808080" stroke-width="4.29"/>
<line x1="1581.5" y1="980.7" x2="1468.6" y2="944.6" stroke="#808080" stroke-width="4.1"/>
<line x1="1468.6" y1="944.6" x2="1460.6" y2="1135.6" stroke="#808080" stroke-width="4.3"/>
<path d="M1468.6 944.6 L1581.5 980.7 L1612.0 930.9 L1500.3 895.8Z" fill="#606000"/>
<line x1="1468.6" y1="944.6" x2="1581.5" y2="980.7" stroke="#646464" stroke-width="4.1"/>
<line x1="1581.5" y1="980.7" x2="1612.0" y2="930.9" stroke="#646464" stroke-width="3.67"/>
<line x1="1612.0" y1="930.9" x2="1500.3" y2="895.8" stroke="#646464" stroke-width="4.1"/>
<line x1="1500.3" y1="895.8" x2="1468.6" y2="944.6" stroke="#646464" stroke-width="3.61"/>
<path d="M1569.1 1172.1 L1598.6 1121.8 L1612.0 930.9 L1581.5 980.7Z" fill="#a5a532"/>
<line x1="1569.1" y1="1172.1" x2="1598.6" y2="1121.8" stroke="#a5a5a5" stroke-width="3.71"/>
<line x1="1598.6" y1="1121.8" x2="1612.0" y2="930.9" stroke="#a5a5a5" stroke-width="4.29"/>
<line x1="1612.0" y1="930.9" x2="1581.5" y2="980.7" stroke="#a5a5a5" stroke-width="3.67"/>
<line x1="1581.5" y1="980.7" x2="1569.1" y2="1172.1" stroke="#a5a5a5" stroke-width="4.29"/>
</g>
<g class="bar">
<path d="M1600.1 1182.5 L1711.2 1219.9 L1718.4 1143.9 L1605.5 1106.6Z" fill="#808000"/>
<line x1="1600.1" y1="1182.5" x2="1711.2" y2="1219.9" stroke="#808080" stroke-width="4.08"/>
<line x1="1711.2" y1="1219.9" x2="1718.4" y2="1143.9" stroke="#808080" stroke-width="4.28"/>
<line x1="1718.4" y1="1143.9" x2="1605.5" y2="1106.6" stroke="#808080" stroke-width="4.08"/>
<line x1="1605.5" y1="1106.6" x2="1600.1" y2="1182.5" stroke="#808080" stroke-width="4.29"/>
<path d="M1605.5 1106.6 L1718.4 1143.9 L1746.8 1092.5 L1635.1 1056.2Z" fill="#606000"/>
<line x1="1605.5" y1="1106.6" x2="1718.4" y2="1143.9" stroke="#646464" stroke-width="4.08"/>
<line x1="1718.4" y1="1143.9" x2="1746.8" y2="1092.5" stroke="#646464" stroke-width="3.76"/>
<line x1="1746.8" y1="1092.5" x2="1635.1" y2="1056.2" stroke="#646464" stroke-width="4.09"/>
<line x1="1635.1" y1="1056.2" x2="1605.5" y2="1106.6" stroke="#646464" stroke-width="3.71"/>
<path d="M1711.2 1219.9 L1739.2 1168.4 L1746.8 1092.5 L1718.4 1143.9Z" fill="#a5a532"/>
<line x1="1711.2" y1="1219.9" x2="1739.2" y2="1168.4" stroke="#a5a5a5" stroke-width="3.78"/>
<line x1="1739.2" y1="1168.4" x2="1746.8" y2="1092.5" stroke="#a5a5a5" stroke-width="4.28"/>
<line x1="1746.8" y1="1092.5" x2="1718.4" y2="1143.9" stroke="#a5a5a5" stroke-width="3.76"/>
<line x1="1718.4" y1="1143.9" x2="1711.2" y2="1219.9" stroke="#a5a5a5" stroke-width="4.28"/>
</g>
<g class="bar">
<path d="M881.8 1025.9 L981.8 1060.4 L970.9 866.2 L867.1 832.3Z" fill="#ff00ff"/>
<line x1="881.8" y1="1025.9" x2="981.8" y2="1060.4" stroke="#808080" stroke-width="4.06"/>
<line x1="981.8" y1="1060.4" x2="970.9" y2="866.2" stroke="#808080" stroke-width="4.29"/>
<line x1="970.9" y1="866.2" x2="867.1" y2="832.3" stroke="#808080" stroke-width="4.09"/>
<line x1="867.1" y1="832.3" x2="881.8" y2="1025.9" stroke="#808080" stroke-width="4.29"/>
<path d="M867.1 832.3 L970.9 866.2 L1008.4 819.4 L905.5 786.3Z" fill="#e000c8"/>
<line x1="867.1" y1="832.3" x2="970.9" y2="866.2" stroke="#646464" stroke-width="4.09"/>
<line x1="970.9" y1="866.2" x2="1008.4" y2="819.4" stroke="#646464" stroke-width="3.36"/>
<line x1="1008.4" y1="819.4" x2="905.5" y2="786.3" stroke="#646464" stroke-width="4.09"/>
<line x1="905.5" y1="786.3" x2="867.1" y2="832.3" stroke="#646464" stroke-width="3.3"/>
<path d="M981.8 1060.4 L1017.7 1012.9 L1008.4 819.4 L970.9 866.2Z" fill="#ff40ff"/>
<line x1="981.8" y1="1060.4" x2="1017.7" y2="1012.9" stroke="#a5a5a5" stroke-width="3.43"/>
<line x1="1017.7" y1="1012.9" x2="1008.4" y2="819.4" stroke="#a5a5a5" stroke-width="4.3"/>
<line x1="1008.4" y1="819.4" x2="970.9" y2="866.2" stroke="#a5a5a5" stroke-width="3.36"/>
<line x1="970.9" y1="866.2" x2="981.8" y2="1060.4" stroke="#a5a5a5" stroke-width="4.29"/>
</g>
<g class="bar">
<path d="M1010.4 1070.2 L1112.8 1105.5 L1103.2 782.7 L994.2 748.3Z" fill="#ff00ff"/>
<line x1="1010.4" y1="1070.2" x2="1112.8" y2="1105.5" stroke="#808080" stroke-width="4.07"/>
<line x1="1112.8" y1="1105.5" x2="1103.2" y2="782.7" stroke="#808080" stroke-width="4.3"/>
<line x1="1103.2" y1="782.7" x2="994.2" y2="748.3" stroke="#808080" stroke-width="4.1"/>
<line x1="994.2" y1="748.3" x2="1010.4" y2="1070.2" stroke="#808080" stroke-width="4.29"/>
<path d="M994.2 748.3 L1103.2 782.7 L1140.3 735.2 L1032.3 701.7Z" fill="#e000c8"/>
<line x1="994.2" y1="748.3" x2="1103.2" y2="782.7" stroke="#646464" stroke-width="4.1"/>
<line x1="1103.2" y1="782.7" x2="1140.3" y2="735.2" stroke="#646464" stroke-width="3.39"/>
<line x1="1140.3" y1="735.2" x2="1032.3" y2="701.7" stroke="#646464" stroke-width="4.11"/>
<line x1="1032.3" y1="701.7" x2="994.2" y2="748.3" stroke="#646464" stroke-width="3.33"/>
<path d="M1112.8 1105.5 L1147.4 1056.8 L1140.3 735.2 L1103.2 782.7Z" fill="#ff40ff"/>
<line x1="1112.8" y1="1105.5" x2="1147.4" y2="1056.8" stroke="#a5a5a5" stroke-width="3.51"/>
<line x1="1147.4" y1="1056.8" x2="1140.3" y2="735.2" stroke="#a5a5a5" stroke-width="4.3"/>
<line x1="1140.3" y1="735.2" x2="1103.2" y2="782.7" stroke="#a5a5a5" stroke-width="3.39"/>
<line x1="1103.2" y1="782.7" x2="1112.8" y2="1105.5" stroke="#a5a5a5" stroke-width="4.3"/>
</g>
<g class="bar">
<path d="M1142.0 1115.5 L1246.9 1151.6 L1246.4 953.5 L1137.3 917.9Z" fill="#ff00ff"/>
<line x1="1142.0" y1="1115.5" x2="1246.9" y2="1151.6" stroke="#808080" stroke-width="4.07"/>
<line x1="1246.9" y1="1151.6" x2="1246.4" y2="953.5" stroke="#808080" stroke-width="4.3"/>
<line x1="1246.4" y1="953.5" x2="1137.3" y2="917.9" stroke="#808080" stroke-width="4.09"/>
<line x1="1137.3" y1="917.9" x2="1142.0" y2="1115.5" stroke="#808080" stroke-width="4.3"/>
<path d="M1137.3 917.9 L1246.4 953.5 L1281.2 904.3 L1173.1 869.6Z" fill="#e000c8"/>
<line x1="1137.3" y1="917.9" x2="1246.4" y2="953.5" stroke="#646464" stroke-width="4.09"/>
<line x1="1246.4" y1="953.5" x2="1281.2" y2="904.3" stroke="#646464" stroke-width="3.51"/>
<line x1="1281.2" y1="904.3" x2="1173.1" y2="869.6" stroke="#646464" stroke-width="4.09"/>
<line x1="1173.1" y1="869.6" x2="1137.3" y2="917.9" stroke="#646464" stroke-width="3.45"/>
<path d="M1246.9 1151.6 L1280.3 1101.8 L1281.2 904.3 L1246.4 953.5Z" fill="#ff40ff"/>
<line x1="1246.9" y1="1151.6" x2="1280.3" y2="1101.8" stroke="#a5a5a5" stroke-width="3.57"/>
<line x1="1280.3" y1="1101.8" x2="1281.2" y2="904.3" stroke="#a5a5a5" stroke-width="4.3"/>
<line x1="1281.2" y1="904.3" x2="1246.4" y2="953.5" stroke="#a5a5a5" stroke-width="3.51"/>
<line x1="1246.4" y1="953.5" x2="1246.9" y2="1151.6" stroke="#a5a5a5" stroke-width="4.3"/>
</g>
<g class="bar">
<path d="M1276.8 1161.9 L1384.2 1198.9 L1390.5 962.3 L1277.7 925.8Z" fill="#ff00ff"/>
<line x1="1276.8" y1="1161.9" x2="1384.2" y2="1198.9" stroke="#808080" stroke-width="4.07"/>
<line x1="1384.2" y1="1198.9" x2="1390.5" y2="962.3" stroke="#808080" stroke-width="4.3"/>
<line x1="1390.5" y1="962.3" x2="1277.7" y2="925.8" stroke="#808080" stroke-width="4.09"/>
<line x1="1277.7" y1="925.8" x2="1276.8" y2="1161.9" stroke="#808080" stroke-width="4.3"/>
<path d="M1277.7 925.8 L1390.5 962.3 L1424.0 911.9 L1312.4 876.5Z" fill="#e000c8"/>
<line x1="1277.7" y1="925.8" x2="1390.5" y2="962.3" stroke="#646464" stroke-width="4.09"/>
<line x1="1390.5" y1="962.3" x2="1424.0" y2="911.9" stroke="#646464" stroke-width="3.58"/>
<line x1="1424.0" y1="911.9" x2="1312.4" y2="876.5" stroke="#646464" stroke-width="4.1"/>
<line x1="1312.4" y1="876.5" x2="1277.7" y2="925.8" stroke="#646464" stroke-width="3.52"/>
<path d="M1384.2 1198.9 L1416.3 1147.9 L1424.0 911.9 L1390.5 962.3Z" fill="#ff40ff"/>
<line x1="1384.2" y1="1198.9" x2="1416.3" y2="1147.9" stroke="#a5a5a5" stroke-width="3.64"/>
<line x1="1416.3" y1="1147.9" x2="1424.0" y2="911.9" stroke="#a5a5a5" stroke-width="4.3"/>
<line x1="1424.0" y1="911.9" x2="1390.5" y2="962.3" stroke="#a5a5a5" stroke-width="3.58"/>
<line x1="1390.5" y1="962.3" x2="1384.2" y2="1198.9" stroke="#a5a5a5" stroke-width="4.3"/>
</g>
<g class="bar">
<path d="M1414.9 1209.5 L1525.0 1247.4 L1538.4 1008.7 L1422.7 971.3Z" fill="#ff00ff"/>
<line x1="1414.9" y1="1209.5" x2="1525.0" y2="1247.4" stroke="#808080" stroke-width="4.07"/>
<line x1="1525.0" y1="1247.4" x2="1538.4" y2="1008.7" stroke="#808080" stroke-width="4.29"/>
<line x1="1538.4" y1="1008.7" x2="1422.7" y2="971.3" stroke="#808080" stroke-width="4.09"/>
<line x1="1422.7" y1="971.3" x2="1414.9" y2="1209.5" stroke="#808080" stroke-width="4.3"/>
<path d="M1422.7 971.3 L1538.4 1008.7 L1570.4 957.1 L1455.9 920.7Z" fill="#e000c8"/>
<line x1="1422.7" y1="971.3" x2="1538.4" y2="1008.7" stroke="#646464" stroke-width="4.09"/>
<line x1="1538.4" y1="1008.7" x2="1570.4" y2="957.1" stroke="#646464" stroke-width="3.65"/>
<line x1="1570.4" y1="957.1" x2="1455.9" y2="920.7" stroke="#646464" stroke-width="4.1"/>
<line x1="1455.9" y1="920.7" x2="1422.7" y2="971.3" stroke="#646464" stroke-width="3.6"/>
<path d="M1525.0 1247.4 L1555.6 1195.1 L1570.4 957.1 L1538.4 1008.7Z" fill="#ff40ff"/>
<line x1="1525.0" y1="1247.4" x2="1555.6" y2="1195.1" stroke="#a5a5a5" stroke-width="3.71"/>
<line x1="1555.6" y1="1195.1" x2="1570.4" y2="957.1" stroke="#a5a5a5" stroke-width="4.29"/>
<line x1="1570.4" y1="957.1" x2="1538.4" y2="1008.7" stroke="#a5a5a5" stroke-width="3.65"/>
<line x1="1538.4" y1="1008.7" x2="1525.0" y2="1247.4" stroke="#a5a5a5" stroke-width="4.29"/>
</g>
<g class="bar">
<path d="M1556.4 1258.2 L1669.2 1297.0 L1683.2 1137.9 L1566.4 1099.3Z" fill="#ff00ff"/>
<line x1="1556.4" y1="1258.2" x2="1669.2" y2="1297.0" stroke="#808080" stroke-width="4.07"/>
<line x1="1669.2" y1="1297.0" x2="1683.2" y2="1137.9" stroke="#808080" stroke-width="4.28"/>
<line x1="1683.2" y1="1137.9" x2="1566.4" y2="1099.3" stroke="#808080" stroke-width="4.08"/>
<line x1="1566.4" y1="1099.3" x2="1556.4" y2="1258.2" stroke="#808080" stroke-width="4.29"/>
<path d="M1566.4 1099.3 L1683.2 1137.9 L1713.1 1084.7 L1597.6 1047.2Z" fill="#e000c8"/>
<line x1="1566.4" y1="1099.3" x2="1683.2" y2="1137.9" stroke="#646464" stroke-width="4.08"/>
<line x1="1683.2" y1="1137.9" x2="1713.1" y2="1084.7" stroke="#646464" stroke-width="3.75"/>
<line x1="1713.1" y1="1084.7" x2="1597.6" y2="1047.2" stroke="#646464" stroke-width="4.09"/>
<line x1="1597.6" y1="1047.2" x2="1566.4" y2="1099.3" stroke="#646464" stroke-width="3.69"/>
<path d="M1669.2 1297.0 L1698.3 1243.5 L1713.1 1084.7 L1683.2 1137.9Z" fill="#ff40ff"/>
<line x1="1669.2" y1="1297.0" x2="1698.3" y2="1243.5" stroke="#a5a5a5" stroke-width="3.78"/>
<line x1="1698.3" y1="1243.5" x2="1713.1" y2="1084.7" stroke="#a5a5a5" stroke-width="4.28"/>
<line x1="1713.1" y1="1084.7" x2="1683.2" y2="1137.9" stroke="#a5a5a5" stroke-width="3.75"/>
<line x1="1683.2" y1="1137.9" x2="1669.2" y2="1297.0" stroke="#a5a5a5" stroke-width="4.28"/>
</g>
<g class="bar">
<path d="M826.8 1095.7 L928.2 1131.4 L903.2 764.0 L794.5 729.2Z" fill="#008080"/>
<line x1="826.8" y1="1095.7" x2="928.2" y2="1131.4" stroke="#808080" stroke-width="4.06"/>
<line x1="928.2" y1="1131.4" x2="903.2" y2="764.0" stroke="#808080" stroke-width="4.29"/>
<line x1="903.2" y1="764.0" x2="794.5" y2="729.2" stroke="#808080" stroke-width="4.1"/>
<line x1="794.5" y1="729.2" x2="826.8" y2="1095.7" stroke="#808080" stroke-width="4.28"/>
<path d="M794.5 729.2 L903.2 764.0 L943.6 716.0 L835.9 682.2Z" fill="#006060"/>
<line x1="794.5" y1="729.2" x2="903.2" y2="764.0" stroke="#646464" stroke-width="4.1"/>
<line x1="903.2" y1="764.0" x2="943.6" y2="716.0" stroke="#646464" stroke-width="3.29"/>
<line x1="943.6" y1="716.0" x2="835.9" y2="682.2" stroke="#646464" stroke-width="4.1"/>
<line x1="835.9" y1="682.2" x2="794.5" y2="729.2" stroke="#646464" stroke-width="3.23"/>
<path d="M928.2 1131.4 L965.4 1082.1 L943.6 716.0 L903.2 764.0Z" fill="#00a6a6"/>
<line x1="928.2" y1="1131.4" x2="965.4" y2="1082.1" stroke="#a5a5a5" stroke-width="3.43"/>
<line x1="965.4" y1="1082.1" x2="943.6" y2="716.0" stroke="#a5a5a5" stroke-width="4.29"/>
<line x1="943.6" y1="716.0" x2="903.2" y2="764.0" stroke="#a5a5a5" stroke-width="3.29"/>
<line x1="903.2" y1="764.0" x2="928.2" y2="1131.4" stroke="#a5a5a5" stroke-width="4.29"/>
</g>
<g class="bar">
<path d="M957.1 1141.6 L1060.9 1178.2 L1050.7 927.7 L941.6 891.6Z" fill="#008080"/>
<line x1="957.1" y1="1141.6" x2="1060.9" y2="1178.2" stroke="#808080" stroke-width="4.06"/>
<line x1="1060.9" y1="1178.2" x2="1050.7" y2="927.7" stroke="#808080" stroke-width="4.3"/>
<line x1="1050.7" y1="927.7" x2="941.6" y2="891.6" stroke="#808080" stroke-width="4.08"/>
<line x1="941.6" y1="891.6" x2="957.1" y2="1141.6" stroke="#808080" stroke-width="4.29"/>
<path d="M941.6 891.6 L1050.7 927.7 L1088.6 878.0 L980.6 842.9Z" fill="#006060"/>
<line x1="941.6" y1="891.6" x2="1050.7" y2="927.7" stroke="#646464" stroke-width="4.08"/>
<line x1="1050.7" y1="927.7" x2="1088.6" y2="878.0" stroke="#646464" stroke-width="3.42"/>
<line x1="1088.6" y1="878.0" x2="980.6" y2="842.9" stroke="#646464" stroke-width="4.09"/>
<line x1="980.6" y1="842.9" x2="941.6" y2="891.6" stroke="#646464" stroke-width="3.36"/>
<path d="M1060.9 1178.2 L1096.9 1127.7 L1088.6 878.0 L1050.7 927.7Z" fill="#00a6a6"/>
<line x1="1060.9" y1="1178.2" x2="1096.9" y2="1127.7" stroke="#a5a5a5" stroke-width="3.5"/>
<line x1="1096.9" y1="1127.7" x2="1088.6" y2="878.0" stroke="#a5a5a5" stroke-width="4.3"/>
<line x1="1088.6" y1="878.0" x2="1050.7" y2="927.7" stroke="#a5a5a5" stroke-width="3.42"/>
<line x1="1050.7" y1="927.7" x2="1060.9" y2="1178.2" stroke="#a5a5a5" stroke-width="4.3"/>
</g>
<g class="bar">
<path d="M1090.5 1188.6 L1196.9 1226.1 L1194.1 1004.7 L1082.9 967.7Z" fill="#008080"/>
<line x1="1090.5" y1="1188.6" x2="1196.9" y2="1226.1" stroke="#808080" stroke-width="4.06"/>
<line x1="1196.9" y1="1226.1" x2="1194.1" y2="1004.7" stroke="#808080" stroke-width="4.3"/>
<line x1="1194.1" y1="1004.7" x2="1082.9" y2="967.7" stroke="#808080" stroke-width="4.08"/>
<line x1="1082.9" y1="967.7" x2="1090.5" y2="1188.6" stroke="#808080" stroke-width="4.3"/>
<path d="M1082.9 967.7 L1194.1 1004.7 L1230.4 953.7 L1120.3 917.6Z" fill="#006060"/>
<line x1="1082.9" y1="967.7" x2="1194.1" y2="1004.7" stroke="#646464" stroke-width="4.08"/>
<line x1="1194.1" y1="1004.7" x2="1230.4" y2="953.7" stroke="#646464" stroke-width="3.5"/>
<line x1="1230.4" y1="953.7" x2="1120.3" y2="917.6" stroke="#646464" stroke-width="4.09"/>
<line x1="1120.3" y1="917.6" x2="1082.9" y2="967.7" stroke="#646464" stroke-width="3.45"/>
<path d="M1196.9 1226.1 L1231.6 1174.4 L1230.4 953.7 L1194.1 1004.7Z" fill="#00a6a6"/>
<line x1="1196.9" y1="1226.1" x2="1231.6" y2="1174.4" stroke="#a5a5a5" stroke-width="3.57"/>
<line x1="1231.6" y1="1174.4" x2="1230.4" y2="953.7" stroke="#a5a5a5" stroke-width="4.3"/>
<line x1="1230.4" y1="953.7" x2="1194.1" y2="1004.7" stroke="#a5a5a5" stroke-width="3.5"/>
<line x1="1194.1" y1="1004.7" x2="1196.9" y2="1226.1" stroke="#a5a5a5" stroke-width="4.3"/>
</g>
<g class="bar">
<path d="M1227.3 1236.8 L1336.3 1275.2 L1338.9 1117.6 L1226.3 1079.5Z" fill="#008080"/>
<line x1="1227.3" y1="1236.8" x2="1336.3" y2="1275.2" stroke="#808080" stroke-width="4.06"/>
<line x1="1336.3" y1="1275.2" x2="1338.9" y2="1117.6" stroke="#808080" stroke-width="4.3"/>
<line x1="1338.9" y1="1117.6" x2="1226.3" y2="1079.5" stroke="#808080" stroke-width="4.07"/>
<line x1="1226.3" y1="1079.5" x2="1227.3" y2="1236.8" stroke="#808080" stroke-width="4.3"/>
<path d="M1226.3 1079.5 L1338.9 1117.6 L1373.2 1065.0 L1261.8 1027.9Z" fill="#006060"/>
<line x1="1226.3" y1="1079.5" x2="1338.9" y2="1117.6" stroke="#646464" stroke-width="4.07"/>
<line x1="1338.9" y1="1117.6" x2="1373.2" y2="1065.0" stroke="#646464" stroke-width="3.6"/>
<line x1="1373.2" y1="1065.0" x2="1261.8" y2="1027.9" stroke="#646464" stroke-width="4.08"/>
<line x1="1261.8" y1="1027.9" x2="1226.3" y2="1079.5" stroke="#646464" stroke-width="3.54"/>
<path d="M1336.3 1275.2 L1369.6 1222.3 L1373.2 1065.0 L1338.9 1117.6Z" fill="#00a6a6"/>
<line x1="1336.3" y1="1275.2" x2="1369.6" y2="1222.3" stroke="#a5a5a5" stroke-width="3.64"/>
<line x1="1369.6" y1="1222.3" x2="1373.2" y2="1065.0" stroke="#a5a5a5" stroke-width="4.3"/>
<line x1="1373.2" y1="1065.0" x2="1338.9" y2="1117.6" stroke="#a5a5a5" stroke-width="3.6"/>
<line x1="1338.9" y1="1117.6" x2="1336.3" y2="1275.2" stroke="#a5a5a5" stroke-width="4.3"/>
</g>
<g class="bar">
<path d="M1367.4 1286.2 L1479.1 1325.6 L1487.0 1159.3 L1371.3 1120.2Z" fill="#008080"/>
<line x1="1367.4" y1="1286.2" x2="1479.1" y2="1325.6" stroke="#808080" stroke-width="4.06"/>
<line x1="1479.1" y1="1325.6" x2="1487.0" y2="1159.3" stroke="#808080" stroke-width="4.3"/>
<line x1="1487.0" y1="1159.3" x2="1371.3" y2="1120.2" stroke="#808080" stroke-width="4.07"/>
<line x1="1371.3" y1="1120.2" x2="1367.4" y2="1286.2" stroke="#808080" stroke-width="4.3"/>
<path d="M1371.3 1120.2 L1487.0 1159.3 L1519.9 1105.4 L1405.3 1067.4Z" fill="#006060"/>
<line x1="1371.3" y1="1120.2" x2="1487.0" y2="1159.3" stroke="#646464" stroke-width="4.07"/>
<line x1="1487.0" y1="1159.3" x2="1519.9" y2="1105.4" stroke="#646464" stroke-width="3.67"/>
<line x1="1519.9" y1="1105.4" x2="1405.3" y2="1067.4" stroke="#646464" stroke-width="4.08"/>
<line x1="1405.3" y1="1067.4" x2="1371.3" y2="1120.2" stroke="#646464" stroke-width="3.62"/>
<path d="M1479.1 1325.6 L1510.9 1271.3 L1519.9 1105.4 L1487.0 1159.3Z" fill="#00a6a6"/>
<line x1="1479.1" y1="1325.6" x2="1510.9" y2="1271.3" stroke="#a5a5a5" stroke-width="3.71"/>
<line x1="1510.9" y1="1271.3" x2="1519.9" y2="1105.4" stroke="#a5a5a5" stroke-width="4.29"/>
<line x1="1519.9" y1="1105.4" x2="1487.0" y2="1159.3" stroke="#a5a5a5" stroke-width="3.67"/>
<line x1="1487.0" y1="1159.3" x2="1479.1" y2="1325.6" stroke="#a5a5a5" stroke-width="4.3"/>
</g>
<g class="bar">
<path d="M1511.0 1336.8 L1625.6 1377.2 L1641.0 1184.0 L1521.6 1143.9Z" fill="#008080"/>
<line x1="1511.0" y1="1336.8" x2="1625.6" y2="1377.2" stroke="#808080" stroke-width="4.06"/>
<line x1="1625.6" y1="1377.2" x2="1641.0" y2="1184.0" stroke="#808080" stroke-width="4.29"/>
<line x1="1641.0" y1="1184.0" x2="1521.6" y2="1143.9" stroke="#808080" stroke-width="4.08"/>
<line x1="1521.6" y1="1143.9" x2="1511.0" y2="1336.8" stroke="#808080" stroke-width="4.29"/>
<path d="M1521.6 1143.9 L1641.0 1184.0 L1672.3 1128.8 L1554.2 1089.8Z" fill="#006060"/>
<line x1="1521.6" y1="1143.9" x2="1641.0" y2="1184.0" stroke="#646464" stroke-width="4.08"/>
<line x1="1641.0" y1="1184.0" x2="1672.3" y2="1128.8" stroke="#646464" stroke-width="3.74"/>
<line x1="1672.3" y1="1128.8" x2="1554.2" y2="1089.8" stroke="#646464" stroke-width="4.08"/>
<line x1="1554.2" y1="1089.8" x2="1521.6" y2="1143.9" stroke="#646464" stroke-width="3.68"/>
<path d="M1625.6 1377.2 L1655.9 1321.6 L1672.3 1128.8 L1641.0 1184.0Z" fill="#00a6a6"/>
<line x1="1625.6" y1="1377.2" x2="1655.9" y2="1321.6" stroke="#a5a5a5" stroke-width="3.78"/>
<line x1="1655.9" y1="1321.6" x2="1672.3" y2="1128.8" stroke="#a5a5a5" stroke-width="4.28"/>
<line x1="1672.3" y1="1128.8" x2="1641.0" y2="1184.0" stroke="#a5a5a5" stroke-width="3.74"/>
<line x1="1641.0" y1="1184.0" x2="1625.6" y2="1377.2" stroke="#a5a5a5" stroke-width="4.29"/>
</g>
<g class="bar">
<path d="M769.8 1168.0 L872.5 1205.1 L860.8 1059.0 L755.0 1022.2Z" fill="#0000ff"/>
<line x1="769.8" y1="1168.0" x2="872.5" y2="1205.1" stroke="#808080" stroke-width="4.04"/>
<line x1="872.5" y1="1205.1" x2="860.8" y2="1059.0" stroke="#808080" stroke-width="4.29"/>
<line x1="860.8" y1="1059.0" x2="755.0" y2="1022.2" stroke="#808080" stroke-width="4.06"/>
<line x1="755.0" y1="1022.2" x2="769.8" y2="1168.0" stroke="#808080" stroke-width="4.28"/>
<path d="M755.0 1022.2 L860.8 1059.0 L900.7 1008.3 L796.0 972.5Z" fill="#0000c8"/>
<line x1="755.0" y1="1022.2" x2="860.8" y2="1059.0" stroke="#646464" stroke-width="4.06"/>
<line x1="860.8" y1="1059.0" x2="900.7" y2="1008.3" stroke="#646464" stroke-width="3.38"/>
<line x1="900.7" y1="1008.3" x2="796.0" y2="972.5" stroke="#646464" stroke-width="4.07"/>
<line x1="796.0" y1="972.5" x2="755.0" y2="1022.2" stroke="#646464" stroke-width="3.32"/>
<path d="M872.5 1205.1 L911.1 1153.9 L900.7 1008.3 L860.8 1059.0Z" fill="#4040ff"/>
<line x1="872.5" y1="1205.1" x2="911.1" y2="1153.9" stroke="#a5a5a5" stroke-width="3.43"/>
<line x1="911.1" y1="1153.9" x2="900.7" y2="1008.3" stroke="#a5a5a5" stroke-width="4.29"/>
<line x1="900.7" y1="1008.3" x2="860.8" y2="1059.0" stroke="#a5a5a5" stroke-width="3.38"/>
<line x1="860.8" y1="1059.0" x2="872.5" y2="1205.1" stroke="#a5a5a5" stroke-width="4.29"/>
</g>
<g class="bar">
<path d="M901.8 1215.6 L1007.1 1253.6 L991.9 967.5 L880.5 930.1Z" fill="#0000ff"/>
<line x1="901.8" y1="1215.6" x2="1007.1" y2="1253.6" stroke="#808080" stroke-width="4.04"/>
<line x1="1007.1" y1="1253.6" x2="991.9" y2="967.5" stroke="#808080" stroke-width="4.29"/>
<line x1="991.9" y1="967.5" x2="880.5" y2="930.1" stroke="#808080" stroke-width="4.08"/>
<line x1="880.5" y1="930.1" x2="901.8" y2="1215.6" stroke="#808080" stroke-width="4.29"/>
<path d="M880.5 930.1 L991.9 967.5 L1031.7 915.9 L921.4 879.6Z" fill="#0000c8"/>
<line x1="880.5" y1="930.1" x2="991.9" y2="967.5" stroke="#646464" stroke-width="4.08"/>
<line x1="991.9" y1="967.5" x2="1031.7" y2="915.9" stroke="#646464" stroke-width="3.4"/>
<line x1="1031.7" y1="915.9" x2="921.4" y2="879.6" stroke="#646464" stroke-width="4.08"/>
<line x1="921.4" y1="879.6" x2="880.5" y2="930.1" stroke="#646464" stroke-width="3.34"/>
<path d="M1007.1 1253.6 L1044.4 1201.3 L1031.7 915.9 L991.9 967.5Z" fill="#4040ff"/>
<line x1="1007.1" y1="1253.6" x2="1044.4" y2="1201.3" stroke="#a5a5a5" stroke-width="3.5"/>
<line x1="1044.4" y1="1201.3" x2="1031.7" y2="915.9" stroke="#a5a5a5" stroke-width="4.3"/>
<line x1="1031.7" y1="915.9" x2="991.9" y2="967.5" stroke="#a5a5a5" stroke-width="3.4"/>
<line x1="991.9" y1="967.5" x2="1007.1" y2="1253.6" stroke="#a5a5a5" stroke-width="4.29"/>
</g>
<g class="bar">
<path d="M1037.1 1264.5 L1145.0 1303.4 L1140.2 1102.5 L1027.8 1063.9Z" fill="#0000ff"/>
<line x1="1037.1" y1="1264.5" x2="1145.0" y2="1303.4" stroke="#808080" stroke-width="4.05"/>
<line x1="1145.0" y1="1303.4" x2="1140.2" y2="1102.5" stroke="#808080" stroke-width="4.3"/>
<line x1="1140.2" y1="1102.5" x2="1027.8" y2="1063.9" stroke="#808080" stroke-width="4.07"/>
<line x1="1027.8" y1="1063.9" x2="1037.1" y2="1264.5" stroke="#808080" stroke-width="4.3"/>
<path d="M1027.8 1063.9 L1140.2 1102.5 L1177.8 1049.3 L1066.5 1011.7Z" fill="#0000c8"/>
<line x1="1027.8" y1="1063.9" x2="1140.2" y2="1102.5" stroke="#646464" stroke-width="4.07"/>
<line x1="1140.2" y1="1102.5" x2="1177.8" y2="1049.3" stroke="#646464" stroke-width="3.51"/>
<line x1="1177.8" y1="1049.3" x2="1066.5" y2="1011.7" stroke="#646464" stroke-width="4.07"/>
<line x1="1066.5" y1="1011.7" x2="1027.8" y2="1063.9" stroke="#646464" stroke-width="3.45"/>
<path d="M1145.0 1303.4 L1181.0 1249.8 L1177.8 1049.3 L1140.2 1102.5Z" fill="#4040ff"/>
<line x1="1145.0" y1="1303.4" x2="1181.0" y2="1249.8" stroke="#a5a5a5" stroke-width="3.57"/>
<line x1="1181.0" y1="1249.8" x2="1177.8" y2="1049.3" stroke="#a5a5a5" stroke-width="4.3"/>
<line x1="1177.8" y1="1049.3" x2="1140.2" y2="1102.5" stroke="#a5a5a5" stroke-width="3.51"/>
<line x1="1140.2" y1="1102.5" x2="1145.0" y2="1303.4" stroke="#a5a5a5" stroke-width="4.3"/>
</g>
<g class="bar">
<path d="M1175.8 1314.5 L1286.4 1354.5 L1287.9 1114.7 L1171.6 1075.2Z" fill="#0000ff"/>
<line x1="1175.8" y1="1314.5" x2="1286.4" y2="1354.5" stroke="#808080" stroke-width="4.04"/>
<line x1="1286.4" y1="1354.5" x2="1287.9" y2="1114.7" stroke="#808080" stroke-width="4.3"/>
<line x1="1287.9" y1="1114.7" x2="1171.6" y2="1075.2" stroke="#808080" stroke-width="4.07"/>
<line x1="1171.6" y1="1075.2" x2="1175.8" y2="1314.5" stroke="#808080" stroke-width="4.3"/>
<path d="M1171.6 1075.2 L1287.9 1114.7 L1324.3 1060.2 L1209.2 1021.8Z" fill="#0000c8"/>
<line x1="1171.6" y1="1075.2" x2="1287.9" y2="1114.7" stroke="#646464" stroke-width="4.07"/>
<line x1="1287.9" y1="1114.7" x2="1324.3" y2="1060.2" stroke="#646464" stroke-width="3.58"/>
<line x1="1324.3" y1="1060.2" x2="1209.2" y2="1021.8" stroke="#646464" stroke-width="4.08"/>
<line x1="1209.2" y1="1021.8" x2="1171.6" y2="1075.2" stroke="#646464" stroke-width="3.52"/>
<path d="M1286.4 1354.5 L1321.0 1299.5 L1324.3 1060.2 L1287.9 1114.7Z" fill="#4040ff"/>
<line x1="1286.4" y1="1354.5" x2="1321.0" y2="1299.5" stroke="#a5a5a5" stroke-width="3.64"/>
<line x1="1321.0" y1="1299.5" x2="1324.3" y2="1060.2" stroke="#a5a5a5" stroke-width="4.3"/>
<line x1="1324.3" y1="1060.2" x2="1287.9" y2="1114.7" stroke="#a5a5a5" stroke-width="3.58"/>
<line x1="1287.9" y1="1114.7" x2="1286.4" y2="1354.5" stroke="#a5a5a5" stroke-width="4.3"/>
</g>
<g class="bar">
<path d="M1318.0 1365.9 L1431.5 1406.8 L1442.3 1121.6 L1321.8 1081.1Z" fill="#0000ff"/>
<line x1="1318.0" y1="1365.9" x2="1431.5" y2="1406.8" stroke="#808080" stroke-width="4.05"/>
<line x1="1431.5" y1="1406.8" x2="1442.3" y2="1121.6" stroke="#808080" stroke-width="4.3"/>
<line x1="1442.3" y1="1121.6" x2="1321.8" y2="1081.1" stroke="#808080" stroke-width="4.08"/>
<line x1="1321.8" y1="1081.1" x2="1318.0" y2="1365.9" stroke="#808080" stroke-width="4.3"/>
<path d="M1321.8 1081.1 L1442.3 1121.6 L1477.3 1065.8 L1358.1 1026.5Z" fill="#0000c8"/>
<line x1="1321.8" y1="1081.1" x2="1442.3" y2="1121.6" stroke="#646464" stroke-width="4.08"/>
<line x1="1442.3" y1="1121.6" x2="1477.3" y2="1065.8" stroke="#646464" stroke-width="3.64"/>
<line x1="1477.3" y1="1065.8" x2="1358.1" y2="1026.5" stroke="#646464" stroke-width="4.08"/>
<line x1="1358.1" y1="1026.5" x2="1321.8" y2="1081.1" stroke="#646464" stroke-width="3.58"/>
<path d="M1431.5 1406.8 L1464.6 1350.4 L1477.3 1065.8 L1442.3 1121.6Z" fill="#4040ff"/>
<line x1="1431.5" y1="1406.8" x2="1464.6" y2="1350.4" stroke="#a5a5a5" stroke-width="3.71"/>
<line x1="1464.6" y1="1350.4" x2="1477.3" y2="1065.8" stroke="#a5a5a5" stroke-width="4.3"/>
<line x1="1477.3" y1="1065.8" x2="1442.3" y2="1121.6" stroke="#a5a5a5" stroke-width="3.64"/>
<line x1="1442.3" y1="1121.6" x2="1431.5" y2="1406.8" stroke="#a5a5a5" stroke-width="4.3"/>
</g>
<g class="bar">
<path d="M1463.9 1418.5 L1580.3 1460.5 L1594.6 1259.8 L1472.9 1218.1Z" fill="#0000ff"/>
<line x1="1463.9" y1="1418.5" x2="1580.3" y2="1460.5" stroke="#808080" stroke-width="4.04"/>
<line x1="1580.3" y1="1460.5" x2="1594.6" y2="1259.8" stroke="#808080" stroke-width="4.29"/>
<line x1="1594.6" y1="1259.8" x2="1472.9" y2="1218.1" stroke="#808080" stroke-width="4.07"/>
<line x1="1472.9" y1="1218.1" x2="1463.9" y2="1418.5" stroke="#808080" stroke-width="4.3"/>
<path d="M1472.9 1218.1 L1594.6 1259.8 L1627.2 1202.3 L1507.0 1161.7Z" fill="#0000c8"/>
<line x1="1472.9" y1="1218.1" x2="1594.6" y2="1259.8" stroke="#646464" stroke-width="4.07"/>
<line x1="1594.6" y1="1259.8" x2="1627.2" y2="1202.3" stroke="#646464" stroke-width="3.74"/>
<line x1="1627.2" y1="1202.3" x2="1507.0" y2="1161.7" stroke="#646464" stroke-width="4.07"/>
<line x1="1507.0" y1="1161.7" x2="1472.9" y2="1218.1" stroke="#646464" stroke-width="3.68"/>
<path d="M1580.3 1460.5 L1611.8 1402.7 L1627.2 1202.3 L1594.6 1259.8Z" fill="#4040ff"/>
<line x1="1580.3" y1="1460.5" x2="1611.8" y2="1402.7" stroke="#a5a5a5" stroke-width="3.78"/>
<line x1="1611.8" y1="1402.7" x2="1627.2" y2="1202.3" stroke="#a5a5a5" stroke-width="4.29"/>
<line x1="1627.2" y1="1202.3" x2="1594.6" y2="1259.8" stroke="#a5a5a5" stroke-width="3.74"/>
<line x1="1594.6" y1="1259.8" x2="1580.3" y2="1460.5" stroke="#a5a5a5" stroke-width="4.29"/>
</g>
<g class="bar">
<path d="M710.6 1243.0 L814.7 1281.5 L805.9 1188.0 L699.9 1149.6Z" fill="#ff0000"/>
<line x1="710.6" y1="1243.0" x2="814.7" y2="1281.5" stroke="#808080" stroke-width="4.03"/>
<line x1="814.7" y1="1281.5" x2="805.9" y2="1188.0" stroke="#808080" stroke-width="4.28"/>
<line x1="805.9" y1="1188.0" x2="699.9" y2="1149.6" stroke="#808080" stroke-width="4.04"/>
<line x1="699.9" y1="1149.6" x2="710.6" y2="1243.0" stroke="#808080" stroke-width="4.27"/>
<path d="M699.9 1149.6 L805.9 1188.0 L846.9 1135.1 L741.9 1097.8Z" fill="#df0000"/>
<line x1="699.9" y1="1149.6" x2="805.9" y2="1188.0" stroke="#646464" stroke-width="4.04"/>
<line x1="805.9" y1="1188.0" x2="846.9" y2="1135.1" stroke="#646464" stroke-width="3.4"/>
<line x1="846.9" y1="1135.1" x2="741.9" y2="1097.8" stroke="#646464" stroke-width="4.05"/>
<line x1="741.9" y1="1097.8" x2="699.9" y2="1149.6" stroke="#646464" stroke-width="3.34"/>
<path d="M814.7 1281.5 L854.8 1228.5 L846.9 1135.1 L805.9 1188.0Z" fill="#ff4040"/>
<line x1="814.7" y1="1281.5" x2="854.8" y2="1228.5" stroke="#a5a5a5" stroke-width="3.43"/>
<line x1="854.8" y1="1228.5" x2="846.9" y2="1135.1" stroke="#a5a5a5" stroke-width="4.28"/>
<line x1="846.9" y1="1135.1" x2="805.9" y2="1188.0" stroke="#a5a5a5" stroke-width="3.4"/>
<line x1="805.9" y1="1188.0" x2="814.7" y2="1281.5" stroke="#a5a5a5" stroke-width="4.28"/>
</g>
<g class="bar">
<path d="M844.5 1292.5 L951.2 1332.0 L928.3 984.3 L813.9 945.6Z" fill="#ff0000"/>
<line x1="844.5" y1="1292.5" x2="951.2" y2="1332.0" stroke="#808080" stroke-width="4.03"/>
<line x1="951.2" y1="1332.0" x2="928.3" y2="984.3" stroke="#808080" stroke-width="4.29"/>
<line x1="928.3" y1="984.3" x2="813.9" y2="945.6" stroke="#808080" stroke-width="4.07"/>
<line x1="813.9" y1="945.6" x2="844.5" y2="1292.5" stroke="#808080" stroke-width="4.28"/>
<path d="M813.9 945.6 L928.3 984.3 L970.3 930.8 L857.1 893.1Z" fill="#df0000"/>
<line x1="813.9" y1="945.6" x2="928.3" y2="984.3" stroke="#646464" stroke-width="4.07"/>
<line x1="928.3" y1="984.3" x2="970.3" y2="930.8" stroke="#646464" stroke-width="3.38"/>
<line x1="970.3" y1="930.8" x2="857.1" y2="893.1" stroke="#646464" stroke-width="4.08"/>
<line x1="857.1" y1="893.1" x2="813.9" y2="945.6" stroke="#646464" stroke-width="3.32"/>
<path d="M951.2 1332.0 L990.0 1277.6 L970.3 930.8 L928.3 984.3Z" fill="#ff4040"/>
<line x1="951.2" y1="1332.0" x2="990.0" y2="1277.6" stroke="#a5a5a5" stroke-width="3.5"/>
<line x1="990.0" y1="1277.6" x2="970.3" y2="930.8" stroke="#a5a5a5" stroke-width="4.29"/>
<line x1="970.3" y1="930.8" x2="928.3" y2="984.3" stroke="#a5a5a5" stroke-width="3.38"/>
<line x1="928.3" y1="984.3" x2="951.2" y2="1332.0" stroke="#a5a5a5" stroke-width="4.29"/>
</g>
<g class="bar">
<path d="M981.7 1343.3 L1091.1 1383.8 L1082.2 1138.1 L967.1 1098.0Z" fill="#ff0000"/>
<line x1="981.7" y1="1343.3" x2="1091.1" y2="1383.8" stroke="#808080" stroke-width="4.03"/>
<line x1="1091.1" y1="1383.8" x2="1082.2" y2="1138.1" stroke="#808080" stroke-width="4.3"/>
<line x1="1082.2" y1="1138.1" x2="967.1" y2="1098.0" stroke="#808080" stroke-width="4.06"/>
<line x1="967.1" y1="1098.0" x2="981.7" y2="1343.3" stroke="#808080" stroke-width="4.29"/>
<path d="M967.1 1098.0 L1082.2 1138.1 L1121.7 1082.8 L1007.8 1043.8Z" fill="#df0000"/>
<line x1="967.1" y1="1098.0" x2="1082.2" y2="1138.1" stroke="#646464" stroke-width="4.06"/>
<line x1="1082.2" y1="1138.1" x2="1121.7" y2="1082.8" stroke="#646464" stroke-width="3.5"/>
<line x1="1121.7" y1="1082.8" x2="1007.8" y2="1043.8" stroke="#646464" stroke-width="4.07"/>
<line x1="1007.8" y1="1043.8" x2="967.1" y2="1098.0" stroke="#646464" stroke-width="3.44"/>
<path d="M1091.1 1383.8 L1128.5 1328.0 L1121.7 1082.8 L1082.2 1138.1Z" fill="#ff4040"/>
<line x1="1091.1" y1="1383.8" x2="1128.5" y2="1328.0" stroke="#a5a5a5" stroke-width="3.57"/>
<line x1="1128.5" y1="1328.0" x2="1121.7" y2="1082.8" stroke="#a5a5a5" stroke-width="4.3"/>
<line x1="1121.7" y1="1082.8" x2="1082.2" y2="1138.1" stroke="#a5a5a5" stroke-width="3.5"/>
<line x1="1082.2" y1="1138.1" x2="1091.1" y2="1383.8" stroke="#a5a5a5" stroke-width="4.3"/>
</g>
<g class="bar">
<path d="M1266.7 1448.7 L1381.9 1491.4 L1397.8 915.6 L1267.9 874.1Z" fill="#ff0000"/>
<line x1="1266.7" y1="1448.7" x2="1381.9" y2="1491.4" stroke="#808080" stroke-width="4.03"/>
<line x1="1381.9" y1="1491.4" x2="1397.8" y2="915.6" stroke="#808080" stroke-width="4.3"/>
<line x1="1397.8" y1="915.6" x2="1267.9" y2="874.1" stroke="#808080" stroke-width="4.1"/>
<line x1="1267.9" y1="874.1" x2="1266.7" y2="1448.7" stroke="#808080" stroke-width="4.3"/>
<path d="M1267.9 874.1 L1397.8 915.6 L1436.4 858.4 L1307.9 818.2Z" fill="#df0000"/>
<line x1="1267.9" y1="874.1" x2="1397.8" y2="915.6" stroke="#646464" stroke-width="4.1"/>
<line x1="1397.8" y1="915.6" x2="1436.4" y2="858.4" stroke="#646464" stroke-width="3.56"/>
<line x1="1436.4" y1="858.4" x2="1307.9" y2="818.2" stroke="#646464" stroke-width="4.1"/>
<line x1="1307.9" y1="818.2" x2="1267.9" y2="874.1" stroke="#646464" stroke-width="3.5"/>
<path d="M1381.9 1491.4 L1416.3 1432.7 L1436.4 858.4 L1397.8 915.6Z" fill="#ff4040"/>
<line x1="1381.9" y1="1491.4" x2="1416.3" y2="1432.7" stroke="#a5a5a5" stroke-width="3.71"/>
<line x1="1416.3" y1="1432.7" x2="1436.4" y2="858.4" stroke="#a5a5a5" stroke-width="4.3"/>
<line x1="1436.4" y1="858.4" x2="1397.8" y2="915.6" stroke="#a5a5a5" stroke-width="3.56"/>
<line x1="1397.8" y1="915.6" x2="1381.9" y2="1491.4" stroke="#a5a5a5" stroke-width="4.3"/>
</g>
<g class="bar">
<path d="M1414.8 1503.5 L1533.1 1547.3 L1542.3 1399.6 L1420.0 1356.0Z" fill="#ff0000"/>
<line x1="1414.8" y1="1503.5" x2="1533.1" y2="1547.3" stroke="#808080" stroke-width="4.03"/>
<line x1="1533.1" y1="1547.3" x2="1542.3" y2="1399.6" stroke="#808080" stroke-width="4.29"/>
<line x1="1542.3" y1="1399.6" x2="1420.0" y2="1356.0" stroke="#808080" stroke-width="4.05"/>
<line x1="1420.0" y1="1356.0" x2="1414.8" y2="1503.5" stroke="#808080" stroke-width="4.3"/>
<path d="M1420.0 1356.0 L1542.3 1399.6 L1576.0 1339.5 L1455.1 1297.1Z" fill="#df0000"/>
<line x1="1420.0" y1="1356.0" x2="1542.3" y2="1399.6" stroke="#646464" stroke-width="4.05"/>
<line x1="1542.3" y1="1399.6" x2="1576.0" y2="1339.5" stroke="#646464" stroke-width="3.75"/>
<line x1="1576.0" y1="1339.5" x2="1455.1" y2="1297.1" stroke="#646464" stroke-width="4.06"/>
<line x1="1455.1" y1="1297.1" x2="1420.0" y2="1356.0" stroke="#646464" stroke-width="3.69"/>
<path d="M1533.1 1547.3 L1565.9 1487.1 L1576.0 1339.5 L1542.3 1399.6Z" fill="#ff4040"/>
<line x1="1533.1" y1="1547.3" x2="1565.9" y2="1487.1" stroke="#a5a5a5" stroke-width="3.78"/>
<line x1="1565.9" y1="1487.1" x2="1576.0" y2="1339.5" stroke="#a5a5a5" stroke-width="4.29"/>
<line x1="1576.0" y1="1339.5" x2="1542.3" y2="1399.6" stroke="#a5a5a5" stroke-width="3.75"/>
<line x1="1542.3" y1="1399.6" x2="1533.1" y2="1547.3" stroke="#a5a5a5" stroke-width="4.29"/>
</g>
<g class="bar">
<path d="M649.2 1321.0 L754.7 1361.0 L750.0 1317.9 L643.6 1277.9Z" fill="#000000"/>
<line x1="649.2" y1="1321.0" x2="754.7" y2="1361.0" stroke="#808080" stroke-width="4.02"/>
<line x1="754.7" y1="1361.0" x2="750.0" y2="1317.9" stroke="#808080" stroke-width="4.27"/>
<line x1="750.0" y1="1317.9" x2="643.6" y2="1277.9" stroke="#808080" stroke-width="4.02"/>
<line x1="643.6" y1="1277.9" x2="649.2" y2="1321.0" stroke="#808080" stroke-width="4.26"/>
<path d="M643.6 1277.9 L750.0 1317.9 L792.1 1262.8 L686.7 1223.9Z" fill="#000000"/>
<line x1="643.6" y1="1277.9" x2="750.0" y2="1317.9" stroke="#646464" stroke-width="4.02"/>
<line x1="750.0" y1="1317.9" x2="792.1" y2="1262.8" stroke="#646464" stroke-width="3.42"/>
<line x1="792.1" y1="1262.8" x2="686.7" y2="1223.9" stroke="#646464" stroke-width="4.03"/>
<line x1="686.7" y1="1223.9" x2="643.6" y2="1277.9" stroke="#646464" stroke-width="3.36"/>
<path d="M754.7 1361.0 L796.4 1305.8 L792.1 1262.8 L750.0 1317.9Z" fill="#404040"/>
<line x1="754.7" y1="1361.0" x2="796.4" y2="1305.8" stroke="#a5a5a5" stroke-width="3.43"/>
<line x1="796.4" y1="1305.8" x2="792.1" y2="1262.8" stroke="#a5a5a5" stroke-width="4.28"/>
<line x1="792.1" y1="1262.8" x2="750.0" y2="1317.9" stroke="#a5a5a5" stroke-width="3.42"/>
<line x1="750.0" y1="1317.9" x2="754.7" y2="1361.0" stroke="#a5a5a5" stroke-width="4.27"/>
</g>
<g class="bar">
<path d="M784.9 1372.4 L893.1 1413.5 L856.6 955.6 L738.0 915.5Z" fill="#000000"/>
<line x1="784.9" y1="1372.4" x2="893.1" y2="1413.5" stroke="#808080" stroke-width="4.02"/>
<line x1="893.1" y1="1413.5" x2="856.6" y2="955.6" stroke="#808080" stroke-width="4.29"/>
<line x1="856.6" y1="955.6" x2="738.0" y2="915.5" stroke="#808080" stroke-width="4.07"/>
<line x1="738.0" y1="915.5" x2="784.9" y2="1372.4" stroke="#808080" stroke-width="4.28"/>
<path d="M738.0 915.5 L856.6 955.6 L901.4 900.3 L784.1 861.3Z" fill="#000000"/>
<line x1="738.0" y1="915.5" x2="856.6" y2="955.6" stroke="#646464" stroke-width="4.07"/>
<line x1="856.6" y1="955.6" x2="901.4" y2="900.3" stroke="#646464" stroke-width="3.34"/>
<line x1="901.4" y1="900.3" x2="784.1" y2="861.3" stroke="#646464" stroke-width="4.08"/>
<line x1="784.1" y1="861.3" x2="738.0" y2="915.5" stroke="#646464" stroke-width="3.28"/>
<path d="M893.1 1413.5 L933.4 1356.9 L901.4 900.3 L856.6 955.6Z" fill="#404040"/>
<line x1="893.1" y1="1413.5" x2="933.4" y2="1356.9" stroke="#a5a5a5" stroke-width="3.5"/>
<line x1="933.4" y1="1356.9" x2="901.4" y2="900.3" stroke="#a5a5a5" stroke-width="4.29"/>
<line x1="901.4" y1="900.3" x2="856.6" y2="955.6" stroke="#a5a5a5" stroke-width="3.34"/>
<line x1="856.6" y1="955.6" x2="893.1" y2="1413.5" stroke="#a5a5a5" stroke-width="4.29"/>
</g>
<g class="bar">
<path d="M924.0 1425.2 L1035.1 1467.3 L1024.2 1246.8 L907.9 1205.0Z" fill="#000000"/>
<line x1="924.0" y1="1425.2" x2="1035.1" y2="1467.3" stroke="#808080" stroke-width="4.02"/>
<line x1="1035.1" y1="1467.3" x2="1024.2" y2="1246.8" stroke="#808080" stroke-width="4.29"/>
<line x1="1024.2" y1="1246.8" x2="907.9" y2="1205.0" stroke="#808080" stroke-width="4.05"/>
<line x1="907.9" y1="1205.0" x2="924.0" y2="1425.2" stroke="#808080" stroke-width="4.29"/>
<path d="M907.9 1205.0 L1024.2 1246.8 L1065.1 1189.2 L950.1 1148.5Z" fill="#000000"/>
<line x1="907.9" y1="1205.0" x2="1024.2" y2="1246.8" stroke="#646464" stroke-width="4.05"/>
<line x1="1024.2" y1="1246.8" x2="1065.1" y2="1189.2" stroke="#646464" stroke-width="3.51"/>
<line x1="1065.1" y1="1189.2" x2="950.1" y2="1148.5" stroke="#646464" stroke-width="4.05"/>
<line x1="950.1" y1="1148.5" x2="907.9" y2="1205.0" stroke="#646464" stroke-width="3.45"/>
<path d="M1035.1 1467.3 L1074.0 1409.3 L1065.1 1189.2 L1024.2 1246.8Z" fill="#404040"/>
<line x1="1035.1" y1="1467.3" x2="1074.0" y2="1409.3" stroke="#a5a5a5" stroke-width="3.57"/>
<line x1="1074.0" y1="1409.3" x2="1065.1" y2="1189.2" stroke="#a5a5a5" stroke-width="4.3"/>
<line x1="1065.1" y1="1189.2" x2="1024.2" y2="1246.8" stroke="#a5a5a5" stroke-width="3.51"/>
<line x1="1024.2" y1="1246.8" x2="1035.1" y2="1467.3" stroke="#a5a5a5" stroke-width="4.29"/>
</g>
<g class="bar">
<path d="M1066.8 1479.4 L1180.8 1522.6 L1177.7 1347.1 L1059.4 1304.1Z" fill="#000000"/>
<line x1="1066.8" y1="1479.4" x2="1180.8" y2="1522.6" stroke="#808080" stroke-width="4.02"/>
<line x1="1180.8" y1="1522.6" x2="1177.7" y2="1347.1" stroke="#808080" stroke-width="4.3"/>
<line x1="1177.7" y1="1347.1" x2="1059.4" y2="1304.1" stroke="#808080" stroke-width="4.04"/>
<line x1="1059.4" y1="1304.1" x2="1066.8" y2="1479.4" stroke="#808080" stroke-width="4.3"/>
<path d="M1059.4 1304.1 L1177.7 1347.1 L1216.6 1287.8 L1099.5 1246.0Z" fill="#000000"/>
<line x1="1059.4" y1="1304.1" x2="1177.7" y2="1347.1" stroke="#646464" stroke-width="4.04"/>
<line x1="1177.7" y1="1347.1" x2="1216.6" y2="1287.8" stroke="#646464" stroke-width="3.6"/>
<line x1="1216.6" y1="1287.8" x2="1099.5" y2="1246.0" stroke="#646464" stroke-width="4.05"/>
<line x1="1099.5" y1="1246.0" x2="1059.4" y2="1304.1" stroke="#646464" stroke-width="3.54"/>
<path d="M1180.8 1522.6 L1218.2 1463.1 L1216.6 1287.8 L1177.7 1347.1Z" fill="#404040"/>
<line x1="1180.8" y1="1522.6" x2="1218.2" y2="1463.1" stroke="#a5a5a5" stroke-width="3.64"/>
<line x1="1218.2" y1="1463.1" x2="1216.6" y2="1287.8" stroke="#a5a5a5" stroke-width="4.3"/>
<line x1="1216.6" y1="1287.8" x2="1177.7" y2="1347.1" stroke="#a5a5a5" stroke-width="3.6"/>
<line x1="1177.7" y1="1347.1" x2="1180.8" y2="1522.6" stroke="#a5a5a5" stroke-width="4.3"/>
</g>
<g class="bar">
<path d="M1213.3 1535.0 L1330.3 1579.3 L1338.0 1115.5 L1208.7 1071.7Z" fill="#000000"/>
<line x1="1213.3" y1="1535.0" x2="1330.3" y2="1579.3" stroke="#808080" stroke-width="4.02"/>
<line x1="1330.3" y1="1579.3" x2="1338.0" y2="1115.5" stroke="#808080" stroke-width="4.3"/>
<line x1="1338.0" y1="1115.5" x2="1208.7" y2="1071.7" stroke="#808080" stroke-width="4.07"/>
<line x1="1208.7" y1="1071.7" x2="1213.3" y2="1535.0" stroke="#808080" stroke-width="4.3"/>
<path d="M1208.7 1071.7 L1338.0 1115.5 L1377.4 1055.2 L1249.7 1012.8Z" fill="#000000"/>
<line x1="1208.7" y1="1071.7" x2="1338.0" y2="1115.5" stroke="#646464" stroke-width="4.07"/>
<line x1="1338.0" y1="1115.5" x2="1377.4" y2="1055.2" stroke="#646464" stroke-width="3.6"/>
<line x1="1377.4" y1="1055.2" x2="1249.7" y2="1012.8" stroke="#646464" stroke-width="4.08"/>
<line x1="1249.7" y1="1012.8" x2="1208.7" y2="1071.7" stroke="#646464" stroke-width="3.53"/>
<path d="M1330.3 1579.3 L1366.2 1518.3 L1377.4 1055.2 L1338.0 1115.5Z" fill="#404040"/>
<line x1="1330.3" y1="1579.3" x2="1366.2" y2="1518.3" stroke="#a5a5a5" stroke-width="3.71"/>
<line x1="1366.2" y1="1518.3" x2="1377.4" y2="1055.2" stroke="#a5a5a5" stroke-width="4.3"/>
<line x1="1377.4" y1="1055.2" x2="1338.0" y2="1115.5" stroke="#a5a5a5" stroke-width="3.6"/>
<line x1="1338.0" y1="1115.5" x2="1330.3" y2="1579.3" stroke="#a5a5a5" stroke-width="4.3"/>
</g>
<g class="bar">
<path d="M1363.8 1592.0 L1483.9 1637.6 L1486.3 1591.7 L1364.9 1546.1Z" fill="#000000"/>
<line x1="1363.8" y1="1592.0" x2="1483.9" y2="1637.6" stroke="#808080" stroke-width="4.02"/>
<line x1="1483.9" y1="1637.6" x2="1486.3" y2="1591.7" stroke="#808080" stroke-width="4.29"/>
<line x1="1486.3" y1="1591.7" x2="1364.9" y2="1546.1" stroke="#808080" stroke-width="4.03"/>
<line x1="1364.9" y1="1546.1" x2="1363.8" y2="1592.0" stroke="#808080" stroke-width="4.3"/>
<path d="M1364.9 1546.1 L1486.3 1591.7 L1520.8 1528.9 L1400.7 1484.6Z" fill="#000000"/>
<line x1="1364.9" y1="1546.1" x2="1486.3" y2="1591.7" stroke="#646464" stroke-width="4.03"/>
<line x1="1486.3" y1="1591.7" x2="1520.8" y2="1528.9" stroke="#646464" stroke-width="3.77"/>
<line x1="1520.8" y1="1528.9" x2="1400.7" y2="1484.6" stroke="#646464" stroke-width="4.03"/>
<line x1="1400.7" y1="1484.6" x2="1364.9" y2="1546.1" stroke="#646464" stroke-width="3.72"/>
<path d="M1483.9 1637.6 L1518.1 1574.9 L1520.8 1528.9 L1486.3 1591.7Z" fill="#404040"/>
<line x1="1483.9" y1="1637.6" x2="1518.1" y2="1574.9" stroke="#a5a5a5" stroke-width="3.77"/>
<line x1="1518.1" y1="1574.9" x2="1520.8" y2="1528.9" stroke="#a5a5a5" stroke-width="4.29"/>
<line x1="1520.8" y1="1528.9" x2="1486.3" y2="1591.7" stroke="#a5a5a5" stroke-width="3.77"/>
<line x1="1486.3" y1="1591.7" x2="1483.9" y2="1637.6" stroke="#a5a5a5" stroke-width="4.29"/>
</g>
</g>
<text class="lg" transform="translate(34 76.8) scale(1.0368 1)" font-size="70" xml:space="preserve"><tspan class="b">Large:</tspan> &gt;100 μm</text>
<text class="lg" transform="translate(34 168.1) scale(1.0294 1)" font-size="70" xml:space="preserve"><tspan class="b">Big:</tspan> 10–100 μm</text>
<text class="lg" transform="translate(34 259.4) scale(1.0349 1)" font-size="70" xml:space="preserve"><tspan class="b">Medium:</tspan> 1–10 μm</text>
<text class="lg" transform="translate(34 350.7) scale(1.0377 1)" font-size="70" xml:space="preserve"><tspan class="b">Small:</tspan> 0.1–1 μm</text>
<text class="lg" transform="translate(34 442.0) scale(1.0318 1)" font-size="70" xml:space="preserve"><tspan class="b">Micro:</tspan> 0.01–0.1 μm</text>
<text class="lg" transform="translate(34 533.3) scale(1.0345 1)" font-size="70" xml:space="preserve"><tspan class="b">Nano:</tspan> &lt;0.01 μm</text>
<text transform="matrix(0.3155 -0.4055 0.7082 0.2759 613.7 1511.7)" font-size="100" stroke="#fff" stroke-width="2.4" >Large</text>
<text transform="matrix(0.4608 -0.4407 0.7082 0.2759 781.7 1525.3)" font-size="100" stroke="#fff" stroke-width="2.4" >Big</text>
<text transform="matrix(0.3441 -0.4982 0.7082 0.2759 860.5 1686.0)" font-size="100" stroke="#fff" stroke-width="2.4" >Medium</text>
<text transform="matrix(0.2999 -0.4715 0.7082 0.2759 1053.6 1683.6)" font-size="100" stroke="#fff" stroke-width="2.4" >Small</text>
<text transform="matrix(0.2921 -0.5404 0.7082 0.2759 1203.6 1755.0)" font-size="100" stroke="#fff" stroke-width="2.4" >Micro</text>
<text transform="matrix(0.2761 -0.4781 0.7082 0.2759 1367.9 1801.4)" font-size="100" stroke="#fff" stroke-width="2.4" >Nano</text>
<text transform="matrix(0.6609 0.2498 -0.2710 0.5263 1599.0 1665.2)" font-size="100" stroke="#fff" stroke-width="2.4" >25℃</text>
<text transform="matrix(0.6499 0.2395 -0.2599 0.5048 1646.4 1573.2)" font-size="100" stroke="#fff" stroke-width="2.4" >100℃</text>
<text transform="matrix(0.6392 0.2299 -0.2495 0.4846 1691.8 1484.9)" font-size="100" stroke="#fff" stroke-width="2.4" >200℃</text>
<text transform="matrix(0.6289 0.2208 -0.2397 0.4656 1735.5 1400.1)" font-size="100" stroke="#fff" stroke-width="2.4" >300℃</text>
<text transform="matrix(0.6189 0.2122 -0.2305 0.4477 1777.5 1318.5)" font-size="100" stroke="#fff" stroke-width="2.4" >500℃</text>
<text transform="matrix(0.6092 0.2042 -0.2218 0.4308 1817.9 1240.1)" font-size="100" stroke="#fff" stroke-width="2.4" >800℃</text>
<text transform="matrix(0.5997 0.1966 -0.2136 0.4149 1856.7 1164.6)" font-size="100" stroke="#fff" stroke-width="2.4" >1000℃</text>
<text transform="matrix(0.5906 0.1894 -0.2058 0.3998 1894.2 1091.9)" font-size="100" stroke="#fff" stroke-width="2.4" >1200℃</text>
<text transform="matrix(0.7208 0.1665 -0.0543 0.6006 2024.5 330.3)" font-size="100" stroke="#fff" stroke-width="2.4" >50</text>
<text transform="matrix(0.6428 0.1485 -0.0543 0.6006 2005.0 500.0)" font-size="100" stroke="#fff" stroke-width="2.4" >40</text>
<text transform="matrix(0.6428 0.1485 -0.0543 0.6006 1983.0 648.0)" font-size="100" stroke="#fff" stroke-width="2.4" >30</text>
<text transform="matrix(0.6428 0.1485 -0.0543 0.6006 1961.8 798.0)" font-size="100" stroke="#fff" stroke-width="2.4" >20</text>
<text transform="matrix(0.6428 0.1485 -0.0543 0.6006 1942.0 935.7)" font-size="100" stroke="#fff" stroke-width="2.4" >10</text>
<text transform="matrix(0.1052 -0.5681 0.7800 0.1760 2074.0 1057.0)" font-size="100" stroke="#fff" stroke-width="2.4" >Proportion</text>
<text transform="matrix(0.1181 -0.6379 0.7800 0.1760 2126.9 771.4)" font-size="100" stroke="#fff" stroke-width="2.4" >of</text>
<text transform="matrix(0.1021 -0.5516 0.7800 0.1760 2138.1 710.6)" font-size="100" stroke="#fff" stroke-width="2.4" >pore</text>
<text transform="matrix(0.0952 -0.5143 0.7800 0.1760 2164.5 567.9)" font-size="100" stroke="#fff" stroke-width="2.4" >volume</text>
<text transform="matrix(0.0908 -0.4906 0.7800 0.1760 2201.6 367.7)" font-size="100" stroke="#fff" stroke-width="2.4" >(%)</text>
</svg>
</body></html>
